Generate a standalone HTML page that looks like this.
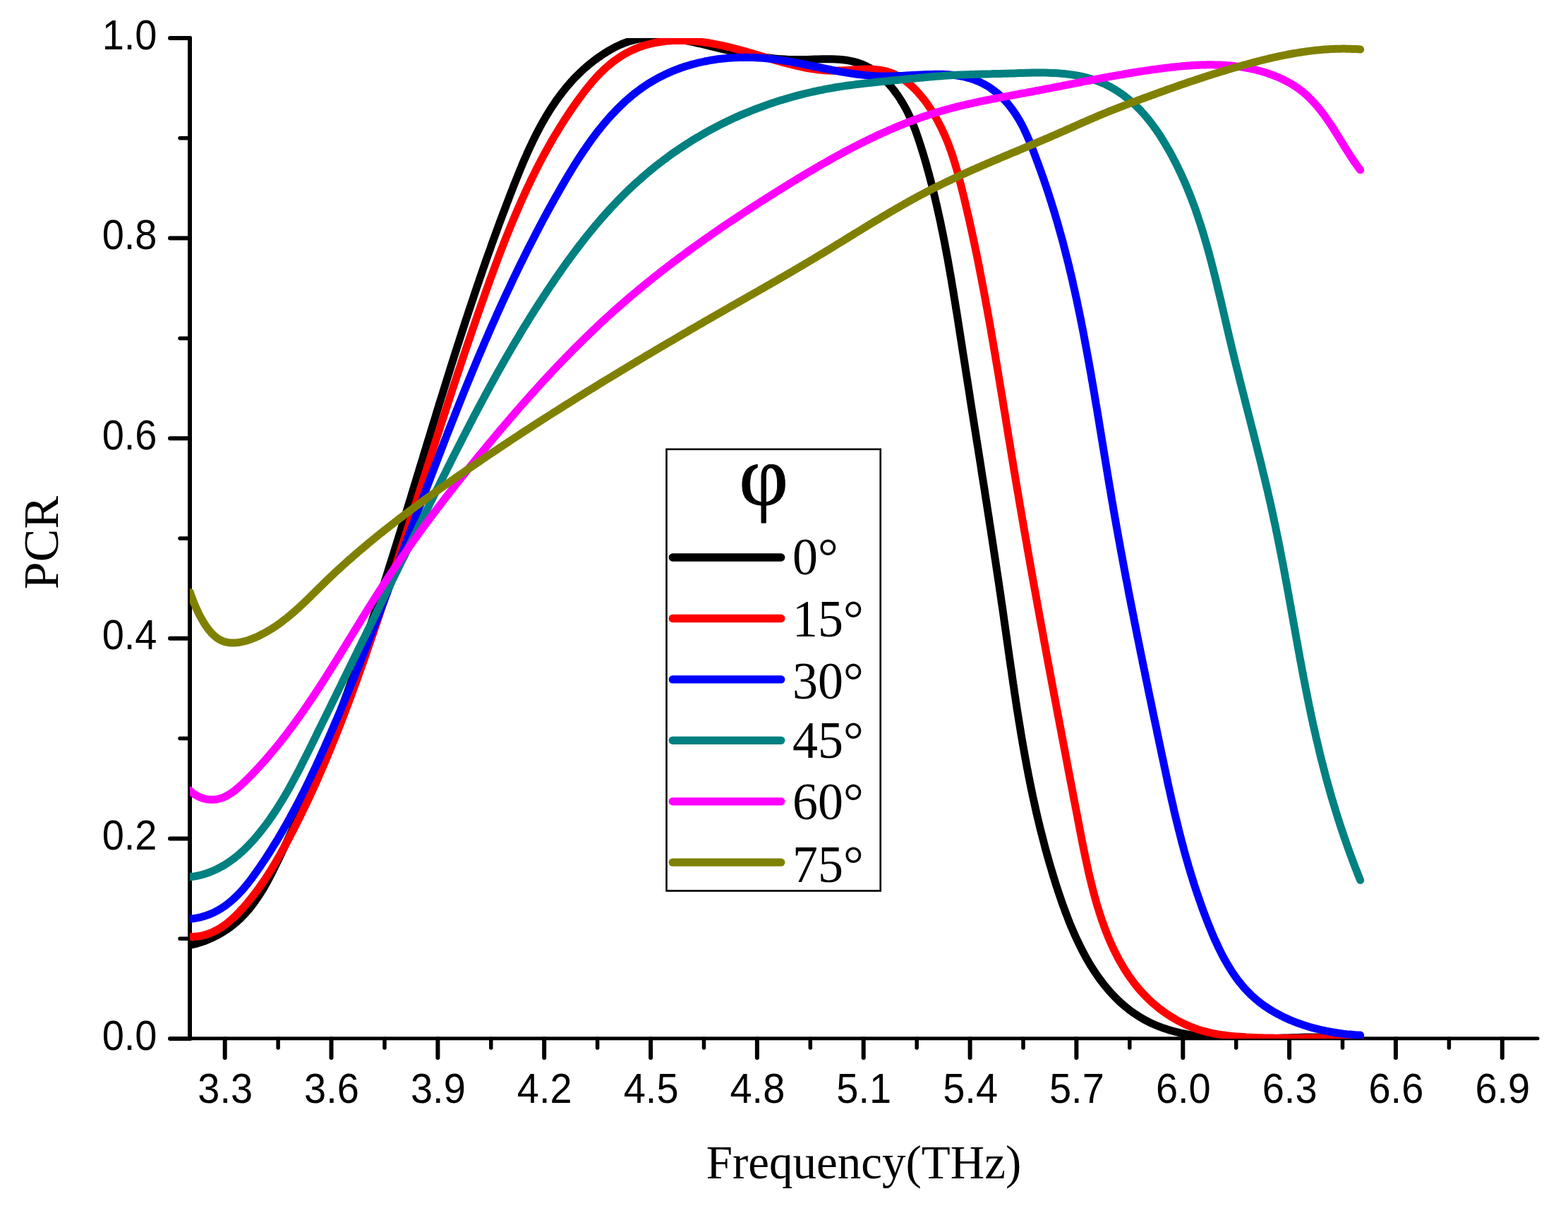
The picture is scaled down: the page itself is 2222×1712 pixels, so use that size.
<!DOCTYPE html>
<html lang="en"><head><meta charset="utf-8"><title>PCR vs Frequency</title>
<style>html,body{margin:0;padding:0;background:#fff;}body{width:2222px;height:1712px;overflow:hidden;}svg{display:block;}.t{font-family:"Liberation Sans",Arial,sans-serif;font-size:56px;fill:#000;}.s{font-family:"Liberation Serif","Times New Roman",serif;fill:#000;}</style></head><body>
<svg xmlns="http://www.w3.org/2000/svg" width="2222" height="1712" viewBox="0 0 2222 1712">
<rect width="2222" height="1712" fill="#fff"/>
<defs><clipPath id="c"><rect x="269.0" y="54.0" width="1910.2" height="1418.0"/></clipPath></defs>
<g stroke="#000" stroke-width="6" stroke-linecap="round" fill="none">
<path d="M269 54V1472"/>
<path d="M241 1471.8H2179" stroke-width="5"/>
<path d="M241 1472.0H269"/>
<path d="M255 1330.2H269" stroke-width="5.5"/>
<path d="M241 1188.4H269"/>
<path d="M255 1046.6H269" stroke-width="5.5"/>
<path d="M241 904.8H269"/>
<path d="M255 763.0H269" stroke-width="5.5"/>
<path d="M241 621.2H269"/>
<path d="M255 479.4H269" stroke-width="5.5"/>
<path d="M241 337.6H269"/>
<path d="M255 195.8H269" stroke-width="5.5"/>
<path d="M241 54.0H269"/>
<path d="M318.7 1472V1499"/>
<path d="M394.1 1472V1485" stroke-width="5.5"/>
<path d="M469.5 1472V1499"/>
<path d="M545.0 1472V1485" stroke-width="5.5"/>
<path d="M620.4 1472V1499"/>
<path d="M695.8 1472V1485" stroke-width="5.5"/>
<path d="M771.2 1472V1499"/>
<path d="M846.6 1472V1485" stroke-width="5.5"/>
<path d="M922.1 1472V1499"/>
<path d="M997.5 1472V1485" stroke-width="5.5"/>
<path d="M1072.9 1472V1499"/>
<path d="M1148.3 1472V1485" stroke-width="5.5"/>
<path d="M1223.7 1472V1499"/>
<path d="M1299.2 1472V1485" stroke-width="5.5"/>
<path d="M1374.6 1472V1499"/>
<path d="M1450.0 1472V1485" stroke-width="5.5"/>
<path d="M1525.4 1472V1499"/>
<path d="M1600.8 1472V1485" stroke-width="5.5"/>
<path d="M1676.3 1472V1499"/>
<path d="M1751.7 1472V1485" stroke-width="5.5"/>
<path d="M1827.1 1472V1499"/>
<path d="M1902.5 1472V1485" stroke-width="5.5"/>
<path d="M1977.9 1472V1499"/>
<path d="M2053.4 1472V1485" stroke-width="5.5"/>
<path d="M2128.8 1472V1499"/>
</g>
<g class="t" text-anchor="middle">
<text transform="translate(319.2 1562.7) scale(1 1.055)">3.3</text>
<text transform="translate(470.0 1562.7) scale(1 1.055)">3.6</text>
<text transform="translate(620.9 1562.7) scale(1 1.055)">3.9</text>
<text transform="translate(771.7 1562.7) scale(1 1.055)">4.2</text>
<text transform="translate(922.6 1562.7) scale(1 1.055)">4.5</text>
<text transform="translate(1073.4 1562.7) scale(1 1.055)">4.8</text>
<text transform="translate(1224.2 1562.7) scale(1 1.055)">5.1</text>
<text transform="translate(1375.1 1562.7) scale(1 1.055)">5.4</text>
<text transform="translate(1525.9 1562.7) scale(1 1.055)">5.7</text>
<text transform="translate(1676.8 1562.7) scale(1 1.055)">6.0</text>
<text transform="translate(1827.6 1562.7) scale(1 1.055)">6.3</text>
<text transform="translate(1978.4 1562.7) scale(1 1.055)">6.6</text>
<text transform="translate(2129.3 1562.7) scale(1 1.055)">6.9</text>
</g>
<g class="t" text-anchor="end">
<text transform="translate(222.5 1487.6) scale(1 1.055)">0.0</text>
<text transform="translate(222.5 1204.0) scale(1 1.055)">0.2</text>
<text transform="translate(222.5 920.4) scale(1 1.055)">0.4</text>
<text transform="translate(222.5 636.8) scale(1 1.055)">0.6</text>
<text transform="translate(222.5 353.2) scale(1 1.055)">0.8</text>
<text transform="translate(222.5 69.6) scale(1 1.055)">1.0</text>
</g>
<g clip-path="url(#c)" fill="none" stroke-width="11" stroke-linejoin="round" stroke-linecap="round">
<path stroke="#000000" d="M268.8 1339.7 L274.1 1338.5 L279.3 1337.1 L284.5 1335.5 L289.5 1333.8 L294.5 1331.8 L299.4 1329.7 L304.2 1327.4 L308.9 1325.0 L313.5 1322.4 L317.9 1319.6 L322.3 1316.8 L326.5 1313.7 L330.6 1310.6 L334.5 1307.3 L338.3 1303.9 L342.0 1300.4 L345.6 1296.7 L349.0 1293.0 L352.3 1289.2 L355.5 1285.2 L358.6 1281.2 L361.6 1277.1 L364.5 1272.9 L367.4 1268.7 L370.1 1264.4 L372.8 1260.0 L375.4 1255.6 L377.9 1251.1 L380.4 1246.5 L382.8 1242.0 L385.2 1237.4 L387.5 1232.7 L389.8 1228.1 L392.1 1223.4 L394.3 1218.7 L396.6 1214.1 L398.8 1209.4 L401.0 1204.7 L403.2 1200.0 L405.4 1195.3 L407.5 1190.6 L409.7 1185.9 L411.8 1181.2 L414.0 1176.5 L416.1 1171.8 L418.2 1167.0 L420.3 1162.3 L422.4 1157.6 L424.5 1152.9 L426.5 1148.2 L428.6 1143.5 L430.6 1138.7 L432.6 1134.0 L434.6 1129.3 L436.6 1124.5 L438.6 1119.8 L440.6 1115.1 L442.6 1110.3 L444.5 1105.6 L446.5 1100.8 L448.4 1096.1 L450.4 1091.3 L452.3 1086.6 L454.2 1081.8 L456.1 1077.1 L458.0 1072.3 L459.9 1067.6 L461.7 1062.8 L463.6 1058.1 L465.4 1053.3 L467.3 1048.5 L469.1 1043.8 L470.9 1039.0 L472.8 1034.2 L474.6 1029.5 L476.4 1024.7 L478.2 1019.9 L479.9 1015.1 L481.7 1010.4 L483.5 1005.6 L485.2 1000.8 L487.0 996.0 L488.7 991.2 L490.4 986.4 L492.2 981.7 L493.9 976.9 L495.6 972.1 L497.3 967.3 L499.0 962.5 L500.7 957.7 L502.4 952.9 L504.0 948.1 L505.7 943.3 L507.4 938.5 L509.0 933.7 L510.7 928.9 L512.3 924.1 L513.9 919.3 L515.6 914.5 L517.2 909.7 L518.8 904.9 L520.4 900.1 L522.0 895.3 L523.6 890.5 L525.2 885.6 L526.8 880.8 L528.4 876.0 L530.0 871.2 L531.6 866.4 L533.1 861.6 L534.7 856.7 L536.2 851.9 L537.8 847.1 L539.4 842.3 L540.9 837.5 L542.4 832.6 L544.0 827.8 L545.5 823.0 L547.1 818.2 L548.6 813.3 L550.1 808.5 L551.6 803.7 L553.1 798.9 L554.7 794.0 L556.2 789.2 L557.7 784.4 L559.2 779.6 L560.7 774.7 L562.2 769.9 L563.7 765.1 L565.2 760.2 L566.7 755.4 L568.2 750.6 L569.7 745.7 L571.1 740.9 L572.6 736.1 L574.1 731.2 L575.6 726.4 L577.1 721.6 L578.5 716.7 L580.0 711.9 L581.5 707.1 L583.0 702.2 L584.4 697.4 L585.9 692.6 L587.4 687.7 L588.9 682.9 L590.3 678.1 L591.8 673.2 L593.3 668.4 L594.7 663.6 L596.2 658.7 L597.7 653.9 L599.2 649.1 L600.6 644.2 L602.1 639.4 L603.6 634.6 L605.0 629.7 L606.5 624.9 L608.0 620.1 L609.5 615.2 L610.9 610.4 L612.4 605.6 L613.9 600.7 L615.4 595.9 L616.9 591.1 L618.3 586.2 L619.8 581.4 L621.3 576.6 L622.8 571.7 L624.3 566.9 L625.8 562.1 L627.3 557.3 L628.8 552.4 L630.3 547.6 L631.8 542.8 L633.3 537.9 L634.8 533.1 L636.3 528.3 L637.8 523.5 L639.3 518.7 L640.9 513.8 L642.4 509.0 L643.9 504.2 L645.4 499.4 L647.0 494.5 L648.5 489.7 L650.1 484.9 L651.6 480.1 L653.2 475.3 L654.7 470.5 L656.3 465.7 L657.9 460.8 L659.4 456.0 L661.0 451.2 L662.6 446.4 L664.2 441.6 L665.8 436.8 L667.4 432.0 L669.0 427.2 L670.6 422.4 L672.2 417.6 L673.8 412.8 L675.4 408.0 L677.1 403.2 L678.7 398.4 L680.3 393.6 L682.0 388.8 L683.6 384.0 L685.3 379.2 L687.0 374.4 L688.6 369.6 L690.3 364.8 L692.0 360.0 L693.7 355.3 L695.4 350.5 L697.1 345.7 L698.8 340.9 L700.6 336.1 L702.3 331.4 L704.0 326.6 L705.8 321.8 L707.5 317.0 L709.3 312.3 L711.1 307.5 L712.9 302.7 L714.7 298.0 L716.5 293.2 L718.3 288.4 L720.1 283.7 L721.9 278.9 L723.7 274.2 L725.6 269.4 L727.4 264.7 L729.3 259.9 L731.2 255.2 L733.1 250.4 L735.0 245.7 L736.9 241.0 L738.9 236.3 L740.8 231.6 L742.8 226.9 L744.9 222.3 L746.9 217.6 L749.0 213.0 L751.1 208.4 L753.3 203.9 L755.4 199.3 L757.6 194.8 L759.9 190.3 L762.2 185.9 L764.5 181.4 L766.9 177.1 L769.3 172.7 L771.8 168.4 L774.3 164.1 L776.9 159.9 L779.5 155.7 L782.2 151.5 L784.9 147.4 L787.7 143.3 L790.6 139.3 L793.5 135.4 L796.5 131.4 L799.5 127.6 L802.6 123.8 L805.8 120.0 L809.0 116.3 L812.3 112.7 L815.7 109.2 L819.2 105.6 L822.7 102.2 L826.4 98.8 L830.1 95.5 L833.9 92.3 L837.7 89.1 L841.7 86.0 L845.7 83.0 L849.9 80.1 L854.1 77.2 L858.4 74.5 L862.8 71.8 L867.3 69.2 L871.8 66.8 L876.4 64.6 L881.0 62.5 L885.7 60.7 L890.3 59.0 L895.1 57.6 L899.8 56.4 L904.6 55.4 L909.4 54.6 L914.2 53.9 L919.0 53.5 L923.8 53.2 L928.7 53.1 L933.6 53.2 L938.5 53.3 L943.4 53.7 L948.4 54.1 L953.3 54.7 L958.3 55.3 L963.3 56.1 L968.3 56.9 L973.3 57.9 L978.4 58.9 L983.4 59.9 L988.5 61.1 L993.5 62.2 L998.6 63.4 L1003.7 64.6 L1008.8 65.9 L1014.0 67.1 L1019.1 68.4 L1024.2 69.6 L1029.4 70.8 L1034.5 72.0 L1039.7 73.2 L1044.9 74.3 L1050.1 75.4 L1055.3 76.4 L1060.4 77.4 L1065.6 78.4 L1070.8 79.3 L1076.1 80.1 L1081.3 80.9 L1086.5 81.6 L1091.7 82.3 L1096.9 82.9 L1102.1 83.4 L1107.4 83.8 L1112.6 84.1 L1117.8 84.4 L1123.0 84.5 L1128.2 84.6 L1133.4 84.6 L1138.7 84.5 L1143.8 84.4 L1149.0 84.2 L1154.2 84.1 L1159.3 83.9 L1164.5 83.8 L1169.6 83.7 L1174.6 83.7 L1179.6 83.7 L1184.6 83.9 L1189.6 84.2 L1194.5 84.7 L1199.3 85.3 L1204.1 86.1 L1208.8 87.1 L1213.5 88.3 L1218.1 89.8 L1222.7 91.5 L1227.2 93.5 L1231.6 95.8 L1235.9 98.4 L1240.1 101.3 L1244.2 104.5 L1248.3 107.9 L1252.2 111.5 L1256.0 115.4 L1259.7 119.3 L1263.2 123.4 L1266.6 127.6 L1269.8 131.9 L1272.8 136.2 L1275.7 140.5 L1278.4 144.9 L1281.0 149.3 L1283.5 153.7 L1285.8 158.1 L1287.9 162.6 L1290.0 167.0 L1292.0 171.5 L1293.8 176.0 L1295.6 180.6 L1297.4 185.1 L1299.0 189.7 L1300.6 194.3 L1302.2 198.9 L1303.7 203.6 L1305.2 208.2 L1306.6 212.9 L1308.1 217.6 L1309.5 222.3 L1310.9 227.1 L1312.3 231.8 L1313.6 236.6 L1314.9 241.4 L1316.3 246.2 L1317.5 251.0 L1318.8 255.8 L1320.1 260.7 L1321.3 265.5 L1322.5 270.4 L1323.7 275.3 L1324.9 280.2 L1326.0 285.1 L1327.2 290.1 L1328.3 295.0 L1329.4 300.0 L1330.5 304.9 L1331.6 309.9 L1332.7 314.9 L1333.7 319.9 L1334.7 324.9 L1335.8 329.9 L1336.8 334.9 L1337.8 340.0 L1338.8 345.0 L1339.7 350.1 L1340.7 355.1 L1341.6 360.2 L1342.6 365.3 L1343.5 370.3 L1344.4 375.4 L1345.3 380.5 L1346.2 385.6 L1347.1 390.7 L1348.0 395.8 L1348.8 401.0 L1349.7 406.1 L1350.6 411.2 L1351.4 416.3 L1352.2 421.4 L1353.1 426.6 L1353.9 431.7 L1354.7 436.8 L1355.6 442.0 L1356.4 447.1 L1357.2 452.2 L1358.0 457.4 L1358.8 462.5 L1359.6 467.6 L1360.4 472.8 L1361.2 477.9 L1362.0 483.0 L1362.8 488.2 L1363.6 493.3 L1364.4 498.4 L1365.2 503.5 L1366.0 508.6 L1366.8 513.7 L1367.6 518.8 L1368.4 524.0 L1369.2 529.1 L1370.0 534.1 L1370.8 539.2 L1371.6 544.3 L1372.4 549.4 L1373.2 554.5 L1374.0 559.6 L1374.7 564.7 L1375.5 569.7 L1376.3 574.8 L1377.1 579.9 L1377.9 584.9 L1378.7 590.0 L1379.5 595.0 L1380.3 600.1 L1381.1 605.1 L1381.9 610.2 L1382.7 615.2 L1383.5 620.3 L1384.3 625.3 L1385.1 630.4 L1385.9 635.4 L1386.7 640.4 L1387.5 645.5 L1388.3 650.5 L1389.1 655.5 L1389.9 660.5 L1390.6 665.5 L1391.4 670.6 L1392.2 675.6 L1393.0 680.6 L1393.8 685.6 L1394.6 690.6 L1395.4 695.6 L1396.1 700.6 L1396.9 705.6 L1397.7 710.6 L1398.5 715.6 L1399.2 720.6 L1400.0 725.6 L1400.8 730.6 L1401.6 735.6 L1402.3 740.6 L1403.1 745.6 L1403.9 750.5 L1404.6 755.5 L1405.4 760.5 L1406.2 765.5 L1406.9 770.5 L1407.7 775.4 L1408.4 780.4 L1409.2 785.4 L1409.9 790.4 L1410.7 795.3 L1411.4 800.3 L1412.2 805.3 L1412.9 810.2 L1413.7 815.2 L1414.4 820.2 L1415.2 825.1 L1415.9 830.1 L1416.6 835.1 L1417.4 840.0 L1418.1 845.0 L1418.8 849.9 L1419.5 854.9 L1420.3 859.8 L1421.0 864.8 L1421.7 869.8 L1422.4 874.7 L1423.1 879.7 L1423.8 884.6 L1424.5 889.6 L1425.2 894.5 L1425.9 899.5 L1426.6 904.4 L1427.3 909.4 L1428.0 914.3 L1428.7 919.3 L1429.4 924.2 L1430.1 929.2 L1430.8 934.1 L1431.5 939.1 L1432.2 944.0 L1433.0 949.0 L1433.7 953.9 L1434.4 958.9 L1435.1 963.8 L1435.8 968.8 L1436.6 973.7 L1437.3 978.7 L1438.0 983.7 L1438.8 988.6 L1439.5 993.6 L1440.3 998.5 L1441.0 1003.5 L1441.8 1008.4 L1442.6 1013.4 L1443.4 1018.3 L1444.2 1023.3 L1445.0 1028.2 L1445.8 1033.2 L1446.6 1038.2 L1447.4 1043.1 L1448.3 1048.1 L1449.1 1053.0 L1450.0 1058.0 L1450.9 1063.0 L1451.8 1067.9 L1452.6 1072.9 L1453.6 1077.8 L1454.5 1082.8 L1455.4 1087.8 L1456.4 1092.7 L1457.3 1097.7 L1458.3 1102.7 L1459.3 1107.7 L1460.3 1112.6 L1461.3 1117.6 L1462.4 1122.6 L1463.4 1127.6 L1464.5 1132.5 L1465.6 1137.5 L1466.7 1142.5 L1467.8 1147.5 L1468.9 1152.5 L1470.1 1157.5 L1471.3 1162.5 L1472.5 1167.5 L1473.7 1172.5 L1474.9 1177.4 L1476.2 1182.4 L1477.5 1187.4 L1478.8 1192.4 L1480.1 1197.5 L1481.4 1202.5 L1482.8 1207.5 L1484.2 1212.5 L1485.6 1217.5 L1487.0 1222.5 L1488.5 1227.5 L1490.0 1232.5 L1491.5 1237.6 L1493.0 1242.6 L1494.6 1247.6 L1496.1 1252.7 L1497.8 1257.7 L1499.4 1262.7 L1501.1 1267.7 L1502.8 1272.8 L1504.5 1277.8 L1506.3 1282.8 L1508.1 1287.7 L1509.9 1292.7 L1511.8 1297.6 L1513.7 1302.6 L1515.6 1307.5 L1517.6 1312.3 L1519.7 1317.2 L1521.7 1322.0 L1523.9 1326.8 L1526.1 1331.5 L1528.3 1336.2 L1530.6 1340.9 L1532.9 1345.5 L1535.3 1350.1 L1537.7 1354.6 L1540.2 1359.1 L1542.7 1363.5 L1545.3 1367.8 L1548.0 1372.1 L1550.7 1376.4 L1553.5 1380.5 L1556.4 1384.6 L1559.3 1388.7 L1562.3 1392.6 L1565.3 1396.5 L1568.5 1400.3 L1571.7 1404.1 L1574.9 1407.7 L1578.3 1411.3 L1581.7 1414.8 L1585.2 1418.2 L1588.7 1421.5 L1592.4 1424.7 L1596.1 1427.8 L1599.9 1430.8 L1603.8 1433.7 L1607.8 1436.5 L1611.9 1439.2 L1616.0 1441.8 L1620.3 1444.3 L1624.6 1446.6 L1629.0 1448.9 L1633.5 1451.0 L1638.1 1453.0 L1642.8 1454.9 L1647.6 1456.7 L1652.5 1458.3 L1657.4 1459.9 L1662.4 1461.3 L1667.5 1462.6 L1672.6 1463.9 L1677.8 1465.0 L1683.0 1466.0 L1688.2 1467.0 L1693.5 1467.8 L1698.8 1468.6 L1704.1 1469.3 L1709.4 1469.9 L1714.7 1470.5 L1720.0 1471.0 L1725.3 1471.4 L1730.6 1471.7 L1735.8 1472.0 L1741.0 1472.2 L1746.2 1472.4 L1751.3 1472.5 L1756.4 1472.6 L1761.4 1472.7 L1766.4 1472.7 L1771.4 1472.6 L1776.3 1472.6 L1781.2 1472.5 L1786.0 1472.4 L1790.8 1472.2 L1795.6 1472.1 L1800.4 1471.9 L1805.2 1471.7 L1810.0 1471.5 L1814.8 1471.3 L1819.6 1471.1 L1824.4 1470.9 L1829.2 1470.7 L1834.0 1470.6 L1838.8 1470.4 L1843.6 1470.3 L1848.5 1470.1 L1853.4 1470.0 L1858.4 1470.0 L1863.4 1469.9 L1868.4 1469.9 L1873.5 1469.9 L1878.6 1470.0 L1883.8 1470.1 L1889.0 1470.3 L1894.3 1470.5 L1899.7 1470.7 L1905.1 1471.1 L1910.6 1471.5 L1916.2 1471.9 L1921.9 1472.4 L1927.7 1473.0"/>
<path stroke="#ff0000" d="M268.9 1327.6 L274.5 1327.6 L279.8 1327.1 L285.0 1326.3 L290.1 1325.1 L295.0 1323.5 L299.8 1321.7 L304.4 1319.5 L309.0 1317.1 L313.4 1314.4 L317.6 1311.5 L321.8 1308.3 L325.9 1305.0 L329.8 1301.5 L333.6 1297.9 L337.4 1294.2 L341.0 1290.3 L344.6 1286.4 L348.0 1282.5 L351.4 1278.5 L354.7 1274.4 L357.9 1270.4 L361.0 1266.3 L364.1 1262.3 L367.1 1258.2 L370.0 1254.0 L372.9 1249.9 L375.7 1245.8 L378.4 1241.6 L381.1 1237.4 L383.8 1233.2 L386.4 1229.0 L388.9 1224.8 L391.4 1220.5 L393.9 1216.2 L396.4 1211.9 L398.8 1207.6 L401.2 1203.3 L403.6 1199.0 L405.9 1194.7 L408.3 1190.3 L410.6 1185.9 L412.9 1181.5 L415.2 1177.1 L417.4 1172.7 L419.7 1168.3 L421.9 1163.8 L424.2 1159.4 L426.4 1154.9 L428.6 1150.4 L430.7 1145.9 L432.9 1141.4 L435.0 1136.9 L437.2 1132.4 L439.3 1127.9 L441.4 1123.3 L443.5 1118.7 L445.5 1114.2 L447.6 1109.6 L449.7 1105.0 L451.7 1100.4 L453.7 1095.8 L455.7 1091.1 L457.7 1086.5 L459.7 1081.9 L461.7 1077.2 L463.6 1072.6 L465.6 1067.9 L467.5 1063.2 L469.4 1058.5 L471.3 1053.8 L473.2 1049.1 L475.1 1044.4 L477.0 1039.7 L478.9 1035.0 L480.7 1030.3 L482.6 1025.5 L484.4 1020.8 L486.2 1016.1 L488.0 1011.3 L489.8 1006.6 L491.6 1001.8 L493.4 997.0 L495.2 992.3 L497.0 987.5 L498.7 982.7 L500.5 977.9 L502.2 973.2 L504.0 968.4 L505.7 963.6 L507.4 958.8 L509.1 954.0 L510.8 949.2 L512.5 944.4 L514.2 939.6 L515.9 934.8 L517.6 930.0 L519.3 925.2 L520.9 920.3 L522.6 915.5 L524.2 910.7 L525.9 905.9 L527.5 901.1 L529.2 896.3 L530.8 891.5 L532.4 886.7 L534.1 881.9 L535.7 877.1 L537.3 872.2 L538.9 867.4 L540.5 862.6 L542.1 857.8 L543.7 853.0 L545.3 848.2 L546.9 843.4 L548.5 838.6 L550.1 833.8 L551.7 829.0 L553.3 824.2 L554.8 819.4 L556.4 814.6 L558.0 809.8 L559.5 805.0 L561.1 800.2 L562.7 795.4 L564.2 790.7 L565.8 785.9 L567.3 781.1 L568.9 776.3 L570.4 771.5 L572.0 766.7 L573.5 761.9 L575.1 757.1 L576.6 752.3 L578.2 747.6 L579.7 742.8 L581.2 738.0 L582.8 733.2 L584.3 728.4 L585.8 723.7 L587.4 718.9 L588.9 714.1 L590.4 709.3 L592.0 704.5 L593.5 699.8 L595.0 695.0 L596.5 690.2 L598.1 685.4 L599.6 680.7 L601.1 675.9 L602.7 671.1 L604.2 666.3 L605.7 661.6 L607.2 656.8 L608.8 652.0 L610.3 647.3 L611.8 642.5 L613.4 637.7 L614.9 633.0 L616.4 628.2 L618.0 623.4 L619.5 618.7 L621.0 613.9 L622.6 609.2 L624.1 604.4 L625.6 599.6 L627.2 594.9 L628.7 590.1 L630.3 585.4 L631.8 580.6 L633.4 575.9 L634.9 571.1 L636.5 566.4 L638.0 561.6 L639.6 556.8 L641.1 552.1 L642.7 547.3 L644.3 542.6 L645.9 537.8 L647.4 533.1 L649.0 528.3 L650.6 523.6 L652.2 518.9 L653.7 514.1 L655.3 509.4 L656.9 504.6 L658.5 499.9 L660.1 495.1 L661.7 490.4 L663.3 485.7 L665.0 480.9 L666.6 476.2 L668.2 471.4 L669.8 466.7 L671.5 462.0 L673.1 457.2 L674.7 452.5 L676.4 447.8 L678.0 443.0 L679.7 438.3 L681.3 433.6 L683.0 428.8 L684.7 424.1 L686.4 419.4 L688.0 414.6 L689.7 409.9 L691.4 405.2 L693.1 400.4 L694.8 395.7 L696.5 391.0 L698.3 386.3 L700.0 381.6 L701.7 376.9 L703.5 372.1 L705.3 367.4 L707.0 362.7 L708.8 358.0 L710.6 353.3 L712.4 348.7 L714.2 344.0 L716.1 339.3 L717.9 334.6 L719.8 330.0 L721.7 325.3 L723.6 320.7 L725.5 316.0 L727.4 311.4 L729.3 306.8 L731.3 302.2 L733.3 297.5 L735.3 293.0 L737.3 288.4 L739.3 283.8 L741.4 279.2 L743.4 274.7 L745.5 270.1 L747.6 265.6 L749.8 261.1 L751.9 256.5 L754.1 252.0 L756.3 247.6 L758.5 243.1 L760.8 238.6 L763.0 234.2 L765.3 229.8 L767.6 225.3 L770.0 220.9 L772.4 216.5 L774.8 212.2 L777.2 207.8 L779.7 203.5 L782.1 199.1 L784.6 194.8 L787.2 190.5 L789.8 186.3 L792.4 182.0 L795.0 177.8 L797.7 173.6 L800.3 169.4 L803.1 165.2 L805.8 161.0 L808.6 156.9 L811.4 152.7 L814.3 148.6 L817.2 144.6 L820.1 140.5 L823.1 136.5 L826.1 132.5 L829.1 128.5 L832.2 124.5 L835.4 120.7 L838.6 116.8 L841.9 113.1 L845.2 109.4 L848.6 105.7 L852.1 102.2 L855.7 98.8 L859.3 95.4 L863.1 92.2 L866.9 89.0 L870.9 86.0 L874.9 83.2 L879.0 80.4 L883.2 77.8 L887.5 75.3 L891.9 73.0 L896.3 70.9 L900.8 68.9 L905.3 67.1 L909.9 65.5 L914.5 64.0 L919.2 62.7 L923.9 61.5 L928.7 60.5 L933.5 59.7 L938.3 59.0 L943.2 58.4 L948.1 57.9 L953.1 57.6 L958.0 57.5 L963.0 57.4 L968.1 57.4 L973.1 57.6 L978.1 57.9 L983.2 58.3 L988.3 58.8 L993.4 59.4 L998.5 60.0 L1003.6 60.8 L1008.7 61.7 L1013.8 62.6 L1018.9 63.6 L1024.0 64.7 L1029.1 65.8 L1034.2 67.0 L1039.3 68.3 L1044.3 69.6 L1049.4 71.0 L1054.5 72.4 L1059.5 73.8 L1064.5 75.3 L1069.6 76.8 L1074.6 78.2 L1079.6 79.7 L1084.6 81.2 L1089.6 82.7 L1094.6 84.2 L1099.6 85.6 L1104.5 87.0 L1109.5 88.4 L1114.5 89.7 L1119.4 91.0 L1124.4 92.2 L1129.3 93.4 L1134.3 94.5 L1139.2 95.5 L1144.1 96.5 L1149.1 97.3 L1154.0 98.1 L1158.9 98.7 L1163.8 99.3 L1168.7 99.7 L1173.6 100.0 L1178.5 100.2 L1183.4 100.2 L1188.2 100.1 L1193.1 100.0 L1198.0 99.7 L1202.9 99.4 L1207.7 99.1 L1212.6 98.7 L1217.5 98.5 L1222.3 98.2 L1227.2 98.1 L1232.0 98.1 L1236.8 98.2 L1241.6 98.6 L1246.3 99.1 L1250.9 99.9 L1255.5 100.9 L1260.0 102.2 L1264.4 103.9 L1268.8 105.8 L1273.0 108.0 L1277.1 110.5 L1281.1 113.2 L1285.1 116.2 L1288.9 119.3 L1292.7 122.7 L1296.3 126.2 L1299.9 129.9 L1303.3 133.8 L1306.6 137.7 L1309.9 141.8 L1313.0 146.0 L1316.0 150.3 L1318.9 154.6 L1321.7 159.0 L1324.4 163.5 L1326.9 167.9 L1329.4 172.4 L1331.7 176.9 L1334.0 181.3 L1336.1 185.9 L1338.2 190.4 L1340.2 194.9 L1342.1 199.5 L1343.9 204.1 L1345.6 208.7 L1347.3 213.3 L1348.9 217.9 L1350.4 222.5 L1351.9 227.2 L1353.3 231.9 L1354.7 236.5 L1356.1 241.2 L1357.4 245.9 L1358.7 250.7 L1359.9 255.4 L1361.1 260.1 L1362.3 264.9 L1363.5 269.7 L1364.7 274.5 L1365.9 279.2 L1367.0 284.1 L1368.2 288.9 L1369.3 293.7 L1370.4 298.5 L1371.5 303.4 L1372.7 308.2 L1373.8 313.1 L1374.8 318.0 L1375.9 322.9 L1377.0 327.8 L1378.1 332.7 L1379.1 337.6 L1380.2 342.5 L1381.2 347.4 L1382.2 352.4 L1383.3 357.3 L1384.3 362.2 L1385.3 367.2 L1386.3 372.2 L1387.3 377.1 L1388.3 382.1 L1389.2 387.1 L1390.2 392.1 L1391.2 397.1 L1392.1 402.1 L1393.1 407.1 L1394.0 412.1 L1395.0 417.1 L1395.9 422.1 L1396.8 427.1 L1397.7 432.2 L1398.7 437.2 L1399.6 442.2 L1400.5 447.2 L1401.4 452.3 L1402.3 457.3 L1403.2 462.4 L1404.1 467.4 L1404.9 472.4 L1405.8 477.5 L1406.7 482.5 L1407.6 487.6 L1408.4 492.6 L1409.3 497.7 L1410.1 502.7 L1411.0 507.8 L1411.8 512.8 L1412.7 517.8 L1413.5 522.9 L1414.4 527.9 L1415.2 533.0 L1416.0 538.0 L1416.9 543.1 L1417.7 548.1 L1418.5 553.1 L1419.4 558.1 L1420.2 563.2 L1421.0 568.2 L1421.8 573.2 L1422.6 578.2 L1423.5 583.2 L1424.3 588.2 L1425.1 593.2 L1425.9 598.2 L1426.7 603.2 L1427.5 608.2 L1428.3 613.2 L1429.1 618.2 L1429.9 623.1 L1430.8 628.1 L1431.6 633.1 L1432.4 638.0 L1433.2 643.0 L1434.0 647.9 L1434.8 652.8 L1435.6 657.7 L1436.4 662.6 L1437.2 667.5 L1438.1 672.4 L1438.9 677.3 L1439.7 682.2 L1440.5 687.1 L1441.3 691.9 L1442.1 696.8 L1443.0 701.6 L1443.8 706.5 L1444.6 711.3 L1445.4 716.2 L1446.3 721.0 L1447.1 725.8 L1447.9 730.6 L1448.7 735.4 L1449.6 740.2 L1450.4 745.1 L1451.2 749.9 L1452.1 754.6 L1452.9 759.4 L1453.7 764.2 L1454.6 769.0 L1455.4 773.8 L1456.2 778.6 L1457.1 783.3 L1457.9 788.1 L1458.8 792.9 L1459.6 797.6 L1460.4 802.4 L1461.3 807.2 L1462.1 811.9 L1463.0 816.7 L1463.8 821.4 L1464.7 826.2 L1465.5 831.0 L1466.4 835.7 L1467.3 840.5 L1468.1 845.2 L1469.0 850.0 L1469.8 854.7 L1470.7 859.5 L1471.6 864.3 L1472.4 869.0 L1473.3 873.8 L1474.2 878.5 L1475.0 883.3 L1475.9 888.1 L1476.8 892.8 L1477.7 897.6 L1478.5 902.4 L1479.4 907.1 L1480.3 911.9 L1481.2 916.7 L1482.1 921.5 L1482.9 926.3 L1483.8 931.1 L1484.7 935.9 L1485.6 940.7 L1486.5 945.5 L1487.4 950.3 L1488.3 955.1 L1489.2 959.9 L1490.1 964.7 L1491.0 969.6 L1491.9 974.4 L1492.8 979.2 L1493.7 984.1 L1494.7 988.9 L1495.6 993.8 L1496.5 998.6 L1497.4 1003.5 L1498.3 1008.4 L1499.2 1013.3 L1500.2 1018.2 L1501.1 1023.1 L1502.0 1028.0 L1503.0 1032.9 L1503.9 1037.8 L1504.8 1042.8 L1505.8 1047.7 L1506.7 1052.7 L1507.7 1057.6 L1508.6 1062.6 L1509.6 1067.6 L1510.5 1072.6 L1511.5 1077.6 L1512.4 1082.6 L1513.4 1087.6 L1514.3 1092.7 L1515.3 1097.7 L1516.3 1102.8 L1517.2 1107.8 L1518.2 1112.9 L1519.2 1118.0 L1520.2 1123.1 L1521.1 1128.2 L1522.1 1133.4 L1523.1 1138.5 L1524.1 1143.7 L1525.1 1148.8 L1526.1 1154.0 L1527.1 1159.2 L1528.1 1164.4 L1529.1 1169.6 L1530.1 1174.9 L1531.1 1180.1 L1532.1 1185.4 L1533.1 1190.6 L1534.2 1195.9 L1535.2 1201.1 L1536.3 1206.4 L1537.4 1211.7 L1538.5 1216.9 L1539.6 1222.2 L1540.8 1227.5 L1541.9 1232.7 L1543.1 1237.9 L1544.3 1243.2 L1545.6 1248.4 L1546.9 1253.6 L1548.2 1258.8 L1549.5 1263.9 L1550.9 1269.1 L1552.3 1274.2 L1553.7 1279.3 L1555.2 1284.3 L1556.8 1289.4 L1558.3 1294.4 L1560.0 1299.4 L1561.6 1304.3 L1563.4 1309.2 L1565.1 1314.1 L1566.9 1319.0 L1568.8 1323.8 L1570.7 1328.5 L1572.7 1333.2 L1574.8 1337.9 L1576.9 1342.5 L1579.0 1347.1 L1581.3 1351.6 L1583.6 1356.0 L1585.9 1360.5 L1588.4 1364.8 L1590.9 1369.1 L1593.4 1373.3 L1596.1 1377.5 L1598.8 1381.6 L1601.6 1385.6 L1604.5 1389.6 L1607.4 1393.5 L1610.5 1397.4 L1613.6 1401.1 L1616.8 1404.8 L1620.1 1408.4 L1623.5 1411.9 L1627.0 1415.4 L1630.5 1418.8 L1634.2 1422.0 L1637.9 1425.2 L1641.7 1428.3 L1645.6 1431.3 L1649.6 1434.2 L1653.6 1437.0 L1657.7 1439.7 L1661.9 1442.3 L1666.1 1444.8 L1670.4 1447.2 L1674.8 1449.4 L1679.2 1451.6 L1683.7 1453.6 L1688.3 1455.5 L1692.9 1457.2 L1697.5 1458.9 L1702.2 1460.3 L1706.9 1461.7 L1711.7 1462.9 L1716.6 1464.0 L1721.4 1465.0 L1726.3 1465.9 L1731.3 1466.6 L1736.2 1467.3 L1741.2 1467.9 L1746.3 1468.4 L1751.3 1468.9 L1756.4 1469.3 L1761.5 1469.6 L1766.6 1470.0 L1771.8 1470.2 L1776.9 1470.5 L1782.1 1470.7 L1787.3 1470.8 L1792.4 1470.9 L1797.6 1471.1 L1802.8 1471.1 L1808.0 1471.2 L1813.2 1471.2 L1818.4 1471.2 L1823.6 1471.2 L1828.8 1471.2 L1833.9 1471.2 L1839.1 1471.2 L1844.2 1471.2 L1849.3 1471.1 L1854.4 1471.1 L1859.5 1471.1 L1864.6 1471.1 L1869.6 1471.1 L1874.6 1471.1 L1879.6 1471.1 L1884.5 1471.1 L1889.4 1471.2 L1894.3 1471.2 L1899.1 1471.4 L1903.9 1471.5 L1908.7 1471.7 L1913.4 1471.9 L1918.0 1472.1 L1922.6 1472.4 L1927.2 1472.7"/>
<path stroke="#0000ff" d="M268.9 1302.4 L274.3 1301.7 L279.5 1300.9 L284.6 1299.8 L289.6 1298.4 L294.3 1296.8 L299.0 1295.0 L303.5 1293.0 L307.8 1290.7 L312.0 1288.3 L316.1 1285.7 L320.1 1282.9 L323.9 1280.0 L327.6 1276.9 L331.3 1273.7 L334.8 1270.3 L338.2 1266.8 L341.6 1263.3 L344.9 1259.6 L348.1 1255.8 L351.2 1252.0 L354.3 1248.0 L357.3 1244.1 L360.2 1240.0 L363.1 1236.0 L366.0 1231.9 L368.8 1227.8 L371.6 1223.7 L374.4 1219.5 L377.1 1215.4 L379.8 1211.2 L382.5 1207.1 L385.1 1202.9 L387.7 1198.7 L390.3 1194.5 L392.9 1190.3 L395.4 1186.1 L397.9 1181.8 L400.4 1177.6 L402.8 1173.3 L405.3 1169.1 L407.7 1164.8 L410.0 1160.5 L412.4 1156.2 L414.7 1151.9 L417.0 1147.6 L419.3 1143.3 L421.6 1139.0 L423.9 1134.7 L426.1 1130.3 L428.3 1126.0 L430.5 1121.6 L432.6 1117.3 L434.8 1112.9 L436.9 1108.5 L439.1 1104.1 L441.2 1099.7 L443.2 1095.3 L445.3 1090.9 L447.4 1086.5 L449.4 1082.1 L451.5 1077.7 L453.5 1073.2 L455.5 1068.8 L457.5 1064.4 L459.5 1059.9 L461.4 1055.5 L463.4 1051.0 L465.4 1046.6 L467.3 1042.1 L469.3 1037.6 L471.2 1033.2 L473.1 1028.7 L475.0 1024.2 L477.0 1019.7 L478.9 1015.3 L480.8 1010.8 L482.7 1006.3 L484.5 1001.8 L486.4 997.3 L488.3 992.8 L490.2 988.3 L492.0 983.8 L493.9 979.3 L495.7 974.7 L497.6 970.2 L499.4 965.7 L501.3 961.2 L503.1 956.7 L504.9 952.1 L506.8 947.6 L508.6 943.1 L510.4 938.5 L512.2 934.0 L514.0 929.5 L515.8 924.9 L517.6 920.4 L519.4 915.8 L521.2 911.3 L522.9 906.7 L524.7 902.2 L526.5 897.6 L528.3 893.1 L530.0 888.5 L531.8 883.9 L533.6 879.4 L535.3 874.8 L537.1 870.2 L538.8 865.7 L540.6 861.1 L542.3 856.5 L544.1 852.0 L545.8 847.4 L547.6 842.8 L549.3 838.3 L551.0 833.7 L552.8 829.1 L554.5 824.5 L556.2 820.0 L558.0 815.4 L559.7 810.8 L561.4 806.2 L563.2 801.6 L564.9 797.1 L566.6 792.5 L568.3 787.9 L570.1 783.3 L571.8 778.7 L573.5 774.2 L575.2 769.6 L576.9 765.0 L578.7 760.4 L580.4 755.8 L582.1 751.2 L583.8 746.7 L585.5 742.1 L587.3 737.5 L589.0 732.9 L590.7 728.3 L592.4 723.8 L594.1 719.2 L595.9 714.6 L597.6 710.0 L599.3 705.4 L601.0 700.9 L602.8 696.3 L604.5 691.7 L606.2 687.1 L608.0 682.6 L609.7 678.0 L611.4 673.4 L613.2 668.9 L614.9 664.3 L616.7 659.7 L618.4 655.2 L620.2 650.6 L621.9 646.0 L623.7 641.5 L625.4 636.9 L627.2 632.4 L628.9 627.8 L630.7 623.2 L632.5 618.7 L634.2 614.1 L636.0 609.6 L637.8 605.1 L639.6 600.5 L641.4 596.0 L643.2 591.4 L645.0 586.9 L646.8 582.4 L648.6 577.8 L650.4 573.3 L652.2 568.8 L654.0 564.3 L655.8 559.7 L657.6 555.2 L659.5 550.7 L661.3 546.2 L663.2 541.7 L665.0 537.2 L666.9 532.7 L668.7 528.2 L670.6 523.7 L672.5 519.2 L674.3 514.7 L676.2 510.2 L678.1 505.7 L680.0 501.3 L681.9 496.8 L683.8 492.3 L685.7 487.8 L687.6 483.4 L689.6 478.9 L691.5 474.5 L693.4 470.0 L695.4 465.6 L697.3 461.1 L699.3 456.7 L701.3 452.3 L703.2 447.8 L705.2 443.4 L707.2 439.0 L709.2 434.6 L711.2 430.1 L713.3 425.7 L715.3 421.3 L717.3 416.9 L719.4 412.5 L721.4 408.2 L723.5 403.8 L725.5 399.4 L727.6 395.0 L729.7 390.7 L731.8 386.3 L733.9 381.9 L736.0 377.6 L738.1 373.2 L740.3 368.9 L742.4 364.6 L744.6 360.2 L746.7 355.9 L748.9 351.6 L751.1 347.3 L753.3 343.0 L755.5 338.7 L757.7 334.4 L759.9 330.1 L762.2 325.8 L764.4 321.5 L766.7 317.2 L768.9 313.0 L771.2 308.7 L773.5 304.5 L775.8 300.2 L778.1 296.0 L780.4 291.8 L782.8 287.5 L785.1 283.3 L787.5 279.1 L789.9 274.9 L792.3 270.7 L794.7 266.5 L797.1 262.3 L799.5 258.2 L801.9 254.0 L804.4 249.9 L806.9 245.7 L809.4 241.6 L811.9 237.5 L814.4 233.5 L817.0 229.4 L819.5 225.4 L822.1 221.4 L824.7 217.4 L827.4 213.5 L830.1 209.6 L832.8 205.7 L835.5 201.8 L838.2 198.0 L841.0 194.3 L843.8 190.5 L846.6 186.8 L849.5 183.2 L852.4 179.6 L855.3 176.0 L858.3 172.5 L861.3 169.0 L864.3 165.6 L867.4 162.2 L870.5 158.9 L873.7 155.6 L876.8 152.4 L880.1 149.3 L883.3 146.2 L886.6 143.1 L890.0 140.2 L893.4 137.3 L896.8 134.4 L900.3 131.7 L903.8 129.0 L907.4 126.3 L911.0 123.8 L914.7 121.3 L918.4 118.8 L922.2 116.5 L926.0 114.2 L929.9 112.0 L933.8 109.9 L937.8 107.8 L941.8 105.8 L945.9 103.9 L950.0 102.1 L954.2 100.3 L958.5 98.6 L962.8 97.0 L967.1 95.5 L971.5 94.0 L975.9 92.7 L980.4 91.4 L984.9 90.2 L989.5 89.0 L994.1 88.0 L998.7 87.0 L1003.4 86.1 L1008.1 85.2 L1012.8 84.5 L1017.6 83.8 L1022.4 83.2 L1027.2 82.7 L1032.0 82.3 L1036.9 81.9 L1041.8 81.7 L1046.7 81.5 L1051.6 81.4 L1056.5 81.3 L1061.5 81.4 L1066.5 81.5 L1071.4 81.7 L1076.4 82.0 L1081.4 82.3 L1086.4 82.8 L1091.4 83.3 L1096.4 83.9 L1101.4 84.6 L1106.4 85.3 L1111.4 86.1 L1116.4 86.9 L1121.4 87.7 L1126.3 88.6 L1131.3 89.6 L1136.3 90.5 L1141.2 91.5 L1146.1 92.5 L1151.0 93.5 L1155.9 94.5 L1160.8 95.5 L1165.6 96.5 L1170.5 97.5 L1175.3 98.5 L1180.0 99.5 L1184.8 100.4 L1189.5 101.3 L1194.2 102.1 L1198.8 102.9 L1203.5 103.7 L1208.1 104.4 L1212.6 105.0 L1217.2 105.6 L1221.8 106.1 L1226.4 106.6 L1231.0 107.0 L1235.6 107.4 L1240.2 107.7 L1244.9 107.9 L1249.6 108.0 L1254.4 108.1 L1259.2 108.1 L1264.0 108.0 L1269.0 107.8 L1273.9 107.6 L1278.9 107.4 L1283.9 107.1 L1289.0 106.8 L1294.1 106.5 L1299.1 106.2 L1304.2 106.0 L1309.3 105.7 L1314.4 105.5 L1319.5 105.4 L1324.6 105.3 L1329.6 105.3 L1334.6 105.3 L1339.6 105.5 L1344.6 105.8 L1349.5 106.2 L1354.3 106.8 L1359.1 107.5 L1363.8 108.4 L1368.5 109.4 L1373.1 110.6 L1377.6 112.0 L1382.0 113.6 L1386.3 115.3 L1390.6 117.3 L1394.7 119.4 L1398.8 121.7 L1402.8 124.2 L1406.6 126.9 L1410.4 129.7 L1414.1 132.8 L1417.7 135.9 L1421.1 139.3 L1424.5 142.8 L1427.8 146.5 L1430.9 150.4 L1433.9 154.3 L1436.8 158.3 L1439.6 162.5 L1442.2 166.7 L1444.8 170.9 L1447.2 175.2 L1449.5 179.5 L1451.6 183.9 L1453.6 188.2 L1455.6 192.6 L1457.4 196.9 L1459.3 201.3 L1461.0 205.7 L1462.8 210.1 L1464.5 214.5 L1466.2 219.0 L1467.9 223.4 L1469.5 227.8 L1471.2 232.3 L1472.8 236.8 L1474.4 241.2 L1476.0 245.7 L1477.6 250.2 L1479.2 254.7 L1480.7 259.2 L1482.3 263.8 L1483.8 268.3 L1485.3 272.8 L1486.8 277.4 L1488.2 282.0 L1489.7 286.5 L1491.1 291.1 L1492.5 295.7 L1494.0 300.3 L1495.3 304.9 L1496.7 309.5 L1498.1 314.1 L1499.4 318.8 L1500.7 323.4 L1502.0 328.1 L1503.3 332.7 L1504.6 337.4 L1505.9 342.0 L1507.1 346.7 L1508.3 351.4 L1509.5 356.1 L1510.7 360.8 L1511.9 365.5 L1513.1 370.2 L1514.3 374.9 L1515.4 379.6 L1516.5 384.4 L1517.7 389.1 L1518.8 393.9 L1519.9 398.6 L1520.9 403.4 L1522.0 408.1 L1523.1 412.9 L1524.1 417.6 L1525.2 422.4 L1526.2 427.2 L1527.2 432.0 L1528.2 436.8 L1529.2 441.6 L1530.2 446.4 L1531.2 451.2 L1532.1 456.0 L1533.1 460.8 L1534.0 465.6 L1535.0 470.4 L1535.9 475.3 L1536.8 480.1 L1537.7 484.9 L1538.6 489.8 L1539.5 494.6 L1540.4 499.4 L1541.3 504.3 L1542.2 509.1 L1543.1 514.0 L1543.9 518.8 L1544.8 523.7 L1545.7 528.5 L1546.5 533.4 L1547.3 538.3 L1548.2 543.1 L1549.0 548.0 L1549.9 552.9 L1550.7 557.7 L1551.5 562.6 L1552.3 567.5 L1553.1 572.4 L1554.0 577.2 L1554.8 582.1 L1555.6 587.0 L1556.4 591.9 L1557.2 596.7 L1558.0 601.6 L1558.8 606.5 L1559.6 611.4 L1560.4 616.3 L1561.2 621.2 L1562.0 626.0 L1562.8 630.9 L1563.6 635.8 L1564.4 640.7 L1565.2 645.6 L1566.0 650.4 L1566.8 655.3 L1567.6 660.2 L1568.4 665.1 L1569.2 669.9 L1570.0 674.8 L1570.8 679.7 L1571.6 684.5 L1572.4 689.4 L1573.3 694.3 L1574.1 699.1 L1574.9 704.0 L1575.7 708.9 L1576.6 713.7 L1577.4 718.6 L1578.2 723.4 L1579.1 728.3 L1579.9 733.1 L1580.8 738.0 L1581.6 742.8 L1582.5 747.7 L1583.4 752.5 L1584.2 757.3 L1585.1 762.2 L1586.0 767.0 L1586.9 771.8 L1587.7 776.6 L1588.6 781.5 L1589.5 786.3 L1590.4 791.1 L1591.3 795.9 L1592.2 800.7 L1593.1 805.6 L1594.0 810.4 L1594.9 815.2 L1595.8 820.0 L1596.8 824.8 L1597.7 829.6 L1598.6 834.4 L1599.5 839.2 L1600.4 844.0 L1601.4 848.8 L1602.3 853.6 L1603.2 858.4 L1604.2 863.1 L1605.1 867.9 L1606.1 872.7 L1607.0 877.5 L1607.9 882.3 L1608.9 887.0 L1609.8 891.8 L1610.8 896.6 L1611.7 901.4 L1612.7 906.1 L1613.7 910.9 L1614.6 915.7 L1615.6 920.4 L1616.5 925.2 L1617.5 930.0 L1618.5 934.7 L1619.4 939.5 L1620.4 944.2 L1621.4 949.0 L1622.4 953.7 L1623.3 958.5 L1624.3 963.2 L1625.3 968.0 L1626.3 972.7 L1627.2 977.5 L1628.2 982.2 L1629.2 986.9 L1630.2 991.7 L1631.2 996.4 L1632.2 1001.2 L1633.1 1005.9 L1634.1 1010.6 L1635.1 1015.3 L1636.1 1020.1 L1637.1 1024.8 L1638.1 1029.5 L1639.1 1034.2 L1640.0 1039.0 L1641.0 1043.7 L1642.0 1048.4 L1643.0 1053.1 L1644.0 1057.8 L1645.0 1062.6 L1646.0 1067.3 L1647.0 1072.0 L1648.0 1076.7 L1649.0 1081.4 L1650.0 1086.1 L1651.0 1090.8 L1652.0 1095.5 L1653.0 1100.2 L1654.0 1104.9 L1655.0 1109.6 L1656.0 1114.3 L1657.1 1119.0 L1658.1 1123.7 L1659.2 1128.4 L1660.2 1133.1 L1661.3 1137.8 L1662.4 1142.5 L1663.4 1147.2 L1664.5 1151.9 L1665.6 1156.6 L1666.8 1161.3 L1667.9 1165.9 L1669.1 1170.6 L1670.2 1175.3 L1671.4 1180.0 L1672.6 1184.7 L1673.8 1189.4 L1675.0 1194.0 L1676.3 1198.7 L1677.5 1203.4 L1678.8 1208.1 L1680.1 1212.7 L1681.4 1217.4 L1682.8 1222.1 L1684.1 1226.8 L1685.5 1231.4 L1686.9 1236.1 L1688.3 1240.8 L1689.8 1245.4 L1691.2 1250.1 L1692.7 1254.8 L1694.3 1259.5 L1695.8 1264.1 L1697.4 1268.8 L1699.0 1273.4 L1700.6 1278.1 L1702.3 1282.8 L1703.9 1287.4 L1705.6 1292.1 L1707.4 1296.8 L1709.2 1301.4 L1711.0 1306.1 L1712.8 1310.7 L1714.7 1315.4 L1716.6 1320.0 L1718.5 1324.6 L1720.5 1329.3 L1722.6 1333.8 L1724.7 1338.4 L1726.8 1342.9 L1729.0 1347.4 L1731.2 1351.9 L1733.6 1356.3 L1735.9 1360.6 L1738.4 1364.9 L1740.9 1369.2 L1743.5 1373.4 L1746.1 1377.5 L1748.9 1381.6 L1751.7 1385.6 L1754.6 1389.5 L1757.6 1393.3 L1760.7 1397.0 L1763.8 1400.7 L1767.1 1404.2 L1770.5 1407.7 L1773.9 1411.0 L1777.5 1414.3 L1781.2 1417.4 L1784.9 1420.5 L1788.8 1423.4 L1792.7 1426.2 L1796.8 1428.9 L1800.9 1431.5 L1805.1 1434.0 L1809.4 1436.4 L1813.7 1438.7 L1818.1 1441.0 L1822.6 1443.1 L1827.1 1445.1 L1831.7 1447.0 L1836.3 1448.8 L1841.0 1450.5 L1845.7 1452.2 L1850.5 1453.7 L1855.2 1455.2 L1860.0 1456.6 L1864.9 1457.8 L1869.7 1459.0 L1874.6 1460.2 L1879.4 1461.2 L1884.3 1462.1 L1889.2 1463.0 L1894.0 1463.8 L1898.9 1464.5 L1903.7 1465.1 L1908.6 1465.7 L1913.4 1466.1 L1918.2 1466.5 L1922.9 1466.9 L1927.7 1467.1"/>
<path stroke="#008080" d="M269.0 1242.9 L273.6 1242.3 L278.1 1241.5 L282.5 1240.6 L286.9 1239.5 L291.1 1238.2 L295.3 1236.8 L299.4 1235.2 L303.4 1233.5 L307.4 1231.7 L311.2 1229.7 L315.0 1227.6 L318.8 1225.4 L322.4 1223.1 L326.0 1220.7 L329.5 1218.1 L333.0 1215.5 L336.4 1212.8 L339.7 1209.9 L343.0 1207.0 L346.2 1204.0 L349.3 1201.0 L352.4 1197.8 L355.4 1194.6 L358.4 1191.4 L361.3 1188.1 L364.2 1184.7 L367.0 1181.3 L369.8 1177.8 L372.6 1174.3 L375.2 1170.8 L377.9 1167.3 L380.5 1163.7 L383.0 1160.1 L385.5 1156.5 L388.0 1152.8 L390.5 1149.1 L392.9 1145.4 L395.2 1141.7 L397.6 1137.9 L399.9 1134.2 L402.1 1130.4 L404.4 1126.5 L406.6 1122.7 L408.8 1118.9 L411.0 1115.0 L413.1 1111.1 L415.2 1107.2 L417.3 1103.3 L419.4 1099.4 L421.5 1095.4 L423.6 1091.5 L425.6 1087.5 L427.6 1083.5 L429.6 1079.6 L431.6 1075.6 L433.6 1071.6 L435.6 1067.6 L437.6 1063.6 L439.6 1059.6 L441.6 1055.6 L443.5 1051.6 L445.5 1047.6 L447.5 1043.6 L449.4 1039.5 L451.4 1035.5 L453.4 1031.5 L455.4 1027.5 L457.3 1023.5 L459.3 1019.5 L461.3 1015.5 L463.3 1011.5 L465.2 1007.5 L467.2 1003.5 L469.2 999.4 L471.1 995.4 L473.1 991.4 L475.1 987.4 L477.1 983.4 L479.0 979.4 L481.0 975.4 L483.0 971.4 L484.9 967.3 L486.9 963.3 L488.9 959.3 L490.8 955.3 L492.8 951.3 L494.8 947.3 L496.7 943.3 L498.7 939.3 L500.7 935.3 L502.6 931.2 L504.6 927.2 L506.6 923.2 L508.5 919.2 L510.5 915.2 L512.5 911.2 L514.4 907.2 L516.4 903.2 L518.4 899.2 L520.3 895.2 L522.3 891.1 L524.3 887.1 L526.2 883.1 L528.2 879.1 L530.2 875.1 L532.1 871.1 L534.1 867.1 L536.0 863.1 L538.0 859.1 L540.0 855.1 L541.9 851.1 L543.9 847.1 L545.8 843.1 L547.8 839.1 L549.8 835.1 L551.7 831.1 L553.7 827.1 L555.6 823.1 L557.6 819.1 L559.6 815.1 L561.5 811.1 L563.5 807.1 L565.4 803.1 L567.4 799.1 L569.3 795.2 L571.3 791.2 L573.3 787.2 L575.2 783.2 L577.2 779.2 L579.1 775.2 L581.1 771.2 L583.0 767.3 L585.0 763.3 L586.9 759.3 L588.9 755.3 L590.8 751.3 L592.8 747.4 L594.7 743.4 L596.7 739.4 L598.6 735.5 L600.6 731.5 L602.5 727.5 L604.5 723.5 L606.4 719.6 L608.4 715.6 L610.3 711.7 L612.3 707.7 L614.2 703.7 L616.2 699.8 L618.2 695.8 L620.1 691.9 L622.1 687.9 L624.0 684.0 L626.0 680.0 L627.9 676.1 L629.9 672.1 L631.9 668.2 L633.8 664.2 L635.8 660.3 L637.8 656.4 L639.7 652.4 L641.7 648.5 L643.7 644.6 L645.7 640.6 L647.7 636.7 L649.7 632.8 L651.7 628.9 L653.7 625.0 L655.7 621.0 L657.7 617.1 L659.7 613.2 L661.7 609.3 L663.7 605.4 L665.7 601.5 L667.8 597.6 L669.8 593.7 L671.8 589.8 L673.9 585.9 L675.9 582.0 L678.0 578.1 L680.1 574.2 L682.1 570.4 L684.2 566.5 L686.3 562.6 L688.4 558.7 L690.5 554.8 L692.6 551.0 L694.7 547.1 L696.8 543.3 L698.9 539.4 L701.1 535.5 L703.2 531.7 L705.3 527.8 L707.5 524.0 L709.7 520.1 L711.8 516.3 L714.0 512.5 L716.2 508.6 L718.4 504.8 L720.6 501.0 L722.8 497.2 L725.1 493.3 L727.3 489.5 L729.6 485.7 L731.8 481.9 L734.1 478.1 L736.4 474.3 L738.6 470.5 L740.9 466.7 L743.2 462.9 L745.6 459.1 L747.9 455.3 L750.2 451.5 L752.6 447.8 L755.0 444.0 L757.3 440.2 L759.7 436.5 L762.1 432.7 L764.5 429.0 L767.0 425.2 L769.4 421.5 L771.9 417.7 L774.3 414.0 L776.8 410.2 L779.3 406.5 L781.8 402.8 L784.3 399.1 L786.8 395.4 L789.4 391.7 L791.9 388.0 L794.5 384.3 L797.1 380.6 L799.7 376.9 L802.3 373.3 L804.9 369.6 L807.6 366.0 L810.3 362.4 L812.9 358.8 L815.6 355.2 L818.3 351.6 L821.1 348.0 L823.8 344.5 L826.6 340.9 L829.3 337.4 L832.1 333.9 L834.9 330.4 L837.7 327.0 L840.6 323.5 L843.4 320.1 L846.3 316.7 L849.2 313.3 L852.1 309.9 L855.0 306.6 L858.0 303.3 L860.9 300.0 L863.9 296.7 L866.9 293.4 L869.9 290.2 L873.0 287.0 L876.0 283.8 L879.1 280.7 L882.2 277.5 L885.3 274.4 L888.4 271.4 L891.6 268.3 L894.8 265.3 L898.0 262.3 L901.2 259.4 L904.4 256.5 L907.7 253.6 L910.9 250.7 L914.2 247.9 L917.5 245.1 L920.8 242.3 L924.2 239.5 L927.6 236.8 L930.9 234.1 L934.3 231.5 L937.8 228.8 L941.2 226.2 L944.7 223.7 L948.1 221.1 L951.6 218.6 L955.1 216.1 L958.7 213.7 L962.2 211.2 L965.8 208.8 L969.4 206.5 L973.0 204.1 L976.6 201.8 L980.2 199.5 L983.9 197.3 L987.6 195.1 L991.3 192.9 L995.0 190.7 L998.7 188.6 L1002.4 186.5 L1006.2 184.4 L1010.0 182.4 L1013.8 180.4 L1017.6 178.4 L1021.4 176.4 L1025.3 174.5 L1029.1 172.6 L1033.0 170.8 L1036.9 168.9 L1040.8 167.1 L1044.7 165.4 L1048.7 163.6 L1052.6 161.9 L1056.6 160.2 L1060.6 158.6 L1064.6 157.0 L1068.6 155.4 L1072.6 153.8 L1076.7 152.3 L1080.8 150.8 L1084.9 149.3 L1089.0 147.9 L1093.1 146.5 L1097.2 145.1 L1101.3 143.8 L1105.5 142.4 L1109.7 141.2 L1113.9 139.9 L1118.1 138.7 L1122.3 137.5 L1126.5 136.3 L1130.8 135.2 L1135.0 134.1 L1139.3 133.0 L1143.6 132.0 L1147.9 131.0 L1152.2 130.0 L1156.6 129.1 L1160.9 128.1 L1165.3 127.3 L1169.6 126.4 L1174.0 125.6 L1178.4 124.8 L1182.8 124.0 L1187.3 123.3 L1191.7 122.6 L1196.2 121.9 L1200.6 121.3 L1205.1 120.7 L1209.6 120.1 L1214.1 119.5 L1218.6 119.0 L1223.1 118.5 L1227.6 117.9 L1232.1 117.5 L1236.6 117.0 L1241.1 116.5 L1245.6 116.0 L1250.1 115.6 L1254.6 115.1 L1259.1 114.7 L1263.5 114.3 L1268.0 113.8 L1272.5 113.4 L1276.9 112.9 L1281.4 112.5 L1285.8 112.0 L1290.2 111.6 L1294.6 111.2 L1299.0 110.7 L1303.4 110.3 L1307.8 109.9 L1312.2 109.5 L1316.6 109.1 L1321.0 108.7 L1325.3 108.3 L1329.7 108.0 L1334.1 107.7 L1338.4 107.3 L1342.8 107.0 L1347.2 106.8 L1351.6 106.5 L1355.9 106.3 L1360.3 106.1 L1364.7 105.9 L1369.1 105.7 L1373.5 105.6 L1377.9 105.4 L1382.3 105.3 L1386.7 105.2 L1391.1 105.1 L1395.5 105.0 L1399.9 104.9 L1404.4 104.8 L1408.8 104.6 L1413.3 104.5 L1417.8 104.4 L1422.2 104.3 L1426.7 104.2 L1431.3 104.0 L1435.8 103.9 L1440.3 103.7 L1444.8 103.6 L1449.4 103.4 L1453.9 103.3 L1458.5 103.2 L1463.0 103.1 L1467.6 103.1 L1472.1 103.1 L1476.6 103.1 L1481.2 103.1 L1485.7 103.2 L1490.2 103.4 L1494.6 103.6 L1499.1 103.8 L1503.6 104.2 L1508.0 104.6 L1512.4 105.0 L1516.8 105.6 L1521.1 106.2 L1525.4 106.9 L1529.7 107.7 L1534.0 108.6 L1538.2 109.6 L1542.4 110.7 L1546.5 111.9 L1550.6 113.2 L1554.7 114.6 L1558.7 116.2 L1562.7 117.8 L1566.6 119.6 L1570.5 121.6 L1574.3 123.6 L1578.0 125.7 L1581.8 128.0 L1585.4 130.4 L1589.0 132.8 L1592.6 135.4 L1596.0 138.1 L1599.5 140.8 L1602.8 143.7 L1606.1 146.6 L1609.3 149.6 L1612.5 152.7 L1615.6 155.8 L1618.6 159.1 L1621.5 162.3 L1624.4 165.7 L1627.2 169.1 L1630.0 172.6 L1632.7 176.1 L1635.3 179.7 L1637.9 183.3 L1640.4 186.9 L1642.9 190.6 L1645.3 194.3 L1647.6 198.1 L1649.9 201.8 L1652.2 205.6 L1654.4 209.5 L1656.6 213.3 L1658.8 217.1 L1660.9 221.0 L1662.9 224.9 L1665.0 228.8 L1667.0 232.7 L1668.9 236.6 L1670.8 240.6 L1672.7 244.5 L1674.5 248.5 L1676.3 252.5 L1678.1 256.5 L1679.9 260.5 L1681.6 264.5 L1683.2 268.6 L1684.9 272.6 L1686.5 276.7 L1688.1 280.8 L1689.6 284.9 L1691.2 289.0 L1692.7 293.1 L1694.2 297.2 L1695.6 301.4 L1697.0 305.5 L1698.4 309.7 L1699.8 313.9 L1701.2 318.1 L1702.5 322.3 L1703.8 326.5 L1705.1 330.7 L1706.4 335.0 L1707.6 339.2 L1708.9 343.5 L1710.1 347.7 L1711.3 352.0 L1712.5 356.3 L1713.7 360.6 L1714.8 364.9 L1716.0 369.2 L1717.1 373.5 L1718.2 377.8 L1719.3 382.2 L1720.4 386.5 L1721.5 390.8 L1722.6 395.2 L1723.7 399.6 L1724.7 403.9 L1725.8 408.3 L1726.8 412.7 L1727.9 417.1 L1728.9 421.5 L1730.0 425.9 L1731.0 430.3 L1732.0 434.7 L1733.1 439.2 L1734.1 443.6 L1735.1 448.0 L1736.1 452.4 L1737.2 456.9 L1738.2 461.3 L1739.2 465.8 L1740.3 470.2 L1741.3 474.7 L1742.4 479.2 L1743.4 483.6 L1744.5 488.1 L1745.6 492.6 L1746.6 497.0 L1747.7 501.5 L1748.8 506.0 L1749.9 510.5 L1751.0 515.0 L1752.1 519.5 L1753.2 523.9 L1754.4 528.4 L1755.5 532.9 L1756.6 537.4 L1757.7 541.9 L1758.9 546.4 L1760.0 550.9 L1761.2 555.4 L1762.3 559.9 L1763.5 564.4 L1764.6 568.9 L1765.7 573.4 L1766.9 577.9 L1768.0 582.3 L1769.2 586.8 L1770.3 591.3 L1771.5 595.8 L1772.6 600.3 L1773.8 604.8 L1774.9 609.3 L1776.1 613.7 L1777.2 618.2 L1778.3 622.7 L1779.5 627.2 L1780.6 631.6 L1781.7 636.1 L1782.8 640.5 L1784.0 645.0 L1785.1 649.4 L1786.2 653.9 L1787.3 658.3 L1788.3 662.8 L1789.4 667.2 L1790.5 671.6 L1791.6 676.1 L1792.6 680.5 L1793.7 684.9 L1794.7 689.3 L1795.8 693.7 L1796.8 698.1 L1797.8 702.5 L1798.8 706.9 L1799.8 711.2 L1800.8 715.6 L1801.8 720.0 L1802.7 724.3 L1803.7 728.7 L1804.6 733.0 L1805.5 737.3 L1806.4 741.6 L1807.4 746.0 L1808.2 750.3 L1809.1 754.6 L1810.0 758.9 L1810.9 763.2 L1811.7 767.5 L1812.6 771.7 L1813.4 776.0 L1814.3 780.3 L1815.1 784.5 L1815.9 788.8 L1816.8 793.1 L1817.6 797.3 L1818.4 801.5 L1819.2 805.8 L1820.0 810.0 L1820.8 814.3 L1821.5 818.5 L1822.3 822.7 L1823.1 826.9 L1823.9 831.1 L1824.6 835.3 L1825.4 839.6 L1826.2 843.8 L1826.9 848.0 L1827.7 852.2 L1828.4 856.3 L1829.2 860.5 L1829.9 864.7 L1830.7 868.9 L1831.4 873.1 L1832.2 877.3 L1832.9 881.5 L1833.7 885.6 L1834.4 889.8 L1835.2 894.0 L1835.9 898.1 L1836.7 902.3 L1837.4 906.5 L1838.2 910.7 L1838.9 914.8 L1839.7 919.0 L1840.4 923.1 L1841.2 927.3 L1841.9 931.5 L1842.7 935.6 L1843.5 939.8 L1844.3 944.0 L1845.0 948.1 L1845.8 952.3 L1846.6 956.4 L1847.4 960.6 L1848.2 964.8 L1849.0 968.9 L1849.8 973.1 L1850.6 977.3 L1851.5 981.4 L1852.3 985.6 L1853.1 989.8 L1854.0 993.9 L1854.8 998.1 L1855.7 1002.3 L1856.6 1006.5 L1857.4 1010.6 L1858.3 1014.8 L1859.2 1019.0 L1860.1 1023.2 L1861.0 1027.4 L1862.0 1031.6 L1862.9 1035.8 L1863.9 1040.0 L1864.8 1044.2 L1865.8 1048.4 L1866.8 1052.6 L1867.8 1056.8 L1868.8 1061.0 L1869.8 1065.2 L1870.8 1069.4 L1871.8 1073.6 L1872.9 1077.9 L1874.0 1082.1 L1875.1 1086.3 L1876.2 1090.6 L1877.3 1094.8 L1878.4 1099.1 L1879.5 1103.3 L1880.7 1107.6 L1881.9 1111.9 L1883.1 1116.1 L1884.3 1120.4 L1885.5 1124.7 L1886.7 1129.0 L1888.0 1133.3 L1889.3 1137.6 L1890.6 1141.9 L1891.9 1146.2 L1893.2 1150.5 L1894.6 1154.9 L1895.9 1159.2 L1897.3 1163.5 L1898.7 1167.9 L1900.1 1172.2 L1901.6 1176.6 L1903.1 1181.0 L1904.5 1185.3 L1906.1 1189.7 L1907.6 1194.1 L1909.1 1198.5 L1910.7 1202.9 L1912.3 1207.4 L1913.9 1211.8 L1915.6 1216.2 L1917.2 1220.7 L1918.9 1225.1 L1920.6 1229.6 L1922.4 1234.0 L1924.1 1238.5 L1925.9 1243.0 L1927.7 1247.5"/>
<path stroke="#ff00ff" d="M268.2 1119.8 L271.2 1122.5 L274.3 1124.8 L277.4 1126.8 L280.5 1128.5 L283.6 1130.0 L286.7 1131.1 L289.8 1132.0 L292.9 1132.7 L295.9 1133.1 L298.9 1133.3 L301.9 1133.3 L304.8 1133.1 L307.6 1132.7 L310.4 1132.1 L313.1 1131.3 L315.7 1130.4 L318.4 1129.3 L320.9 1128.0 L323.5 1126.6 L325.9 1125.1 L328.4 1123.5 L330.8 1121.8 L333.2 1120.0 L335.5 1118.1 L337.9 1116.1 L340.1 1114.1 L342.4 1112.0 L344.7 1109.8 L346.9 1107.7 L349.1 1105.5 L351.3 1103.3 L353.5 1101.1 L355.7 1098.9 L357.8 1096.7 L360.0 1094.4 L362.1 1092.2 L364.2 1089.9 L366.3 1087.7 L368.4 1085.4 L370.5 1083.1 L372.6 1080.8 L374.6 1078.5 L376.7 1076.2 L378.7 1073.9 L380.7 1071.5 L382.7 1069.2 L384.7 1066.8 L386.7 1064.5 L388.7 1062.1 L390.6 1059.7 L392.6 1057.3 L394.5 1054.9 L396.5 1052.5 L398.4 1050.1 L400.3 1047.6 L402.2 1045.2 L404.1 1042.8 L406.0 1040.3 L407.9 1037.9 L409.7 1035.4 L411.6 1032.9 L413.4 1030.5 L415.3 1028.0 L417.1 1025.5 L418.9 1023.0 L420.7 1020.5 L422.5 1018.0 L424.3 1015.5 L426.1 1012.9 L427.9 1010.4 L429.7 1007.9 L431.4 1005.3 L433.2 1002.8 L435.0 1000.2 L436.7 997.7 L438.4 995.1 L440.2 992.5 L441.9 990.0 L443.6 987.4 L445.3 984.8 L447.1 982.2 L448.8 979.7 L450.5 977.1 L452.2 974.5 L453.8 971.9 L455.5 969.3 L457.2 966.7 L458.9 964.1 L460.6 961.4 L462.2 958.8 L463.9 956.2 L465.5 953.6 L467.2 951.0 L468.8 948.4 L470.5 945.7 L472.1 943.1 L473.8 940.5 L475.4 937.8 L477.1 935.2 L478.7 932.6 L480.3 929.9 L482.0 927.3 L483.6 924.7 L485.2 922.0 L486.8 919.4 L488.5 916.8 L490.1 914.1 L491.7 911.5 L493.3 908.8 L494.9 906.2 L496.5 903.6 L498.2 900.9 L499.8 898.3 L501.4 895.6 L503.0 893.0 L504.6 890.4 L506.3 887.7 L507.9 885.1 L509.5 882.5 L511.1 879.8 L512.7 877.2 L514.3 874.6 L516.0 872.0 L517.6 869.3 L519.2 866.7 L520.8 864.1 L522.5 861.5 L524.1 858.9 L525.7 856.3 L527.4 853.7 L529.0 851.1 L530.7 848.5 L532.3 845.9 L534.0 843.3 L535.6 840.7 L537.3 838.1 L538.9 835.5 L540.6 833.0 L542.3 830.4 L543.9 827.8 L545.6 825.3 L547.3 822.7 L549.0 820.2 L550.7 817.6 L552.3 815.1 L554.0 812.5 L555.7 810.0 L557.4 807.5 L559.2 804.9 L560.9 802.4 L562.6 799.9 L564.3 797.4 L566.0 794.9 L567.7 792.4 L569.5 789.9 L571.2 787.4 L573.0 784.9 L574.7 782.4 L576.4 779.9 L578.2 777.4 L579.9 774.9 L581.7 772.4 L583.5 770.0 L585.2 767.5 L587.0 765.0 L588.8 762.5 L590.6 760.1 L592.3 757.6 L594.1 755.1 L595.9 752.7 L597.7 750.2 L599.5 747.8 L601.3 745.3 L603.1 742.9 L604.9 740.4 L606.7 738.0 L608.5 735.6 L610.4 733.1 L612.2 730.7 L614.0 728.3 L615.8 725.8 L617.7 723.4 L619.5 721.0 L621.4 718.5 L623.2 716.1 L625.1 713.7 L626.9 711.3 L628.8 708.9 L630.6 706.4 L632.5 704.0 L634.4 701.6 L636.2 699.2 L638.1 696.8 L640.0 694.4 L641.9 692.0 L643.8 689.6 L645.6 687.2 L647.5 684.8 L649.4 682.4 L651.3 680.0 L653.2 677.6 L655.2 675.2 L657.1 672.8 L659.0 670.4 L660.9 668.0 L662.8 665.6 L664.8 663.2 L666.7 660.8 L668.6 658.4 L670.6 656.0 L672.5 653.6 L674.4 651.2 L676.4 648.8 L678.3 646.4 L680.3 644.1 L682.3 641.7 L684.2 639.3 L686.2 636.9 L688.2 634.5 L690.1 632.1 L692.1 629.7 L694.1 627.3 L696.1 624.9 L698.1 622.6 L700.0 620.2 L702.0 617.8 L704.0 615.4 L706.0 613.0 L708.0 610.7 L710.0 608.3 L712.1 605.9 L714.1 603.5 L716.1 601.1 L718.1 598.8 L720.1 596.4 L722.2 594.0 L724.2 591.7 L726.2 589.3 L728.3 587.0 L730.3 584.6 L732.4 582.2 L734.4 579.9 L736.5 577.5 L738.5 575.2 L740.6 572.8 L742.7 570.5 L744.7 568.2 L746.8 565.8 L748.9 563.5 L751.0 561.1 L753.0 558.8 L755.1 556.5 L757.2 554.2 L759.3 551.9 L761.4 549.5 L763.5 547.2 L765.6 544.9 L767.7 542.6 L769.8 540.3 L772.0 538.0 L774.1 535.7 L776.2 533.4 L778.3 531.2 L780.5 528.9 L782.6 526.6 L784.7 524.3 L786.9 522.1 L789.0 519.8 L791.2 517.5 L793.3 515.3 L795.5 513.0 L797.6 510.8 L799.8 508.6 L801.9 506.3 L804.1 504.1 L806.3 501.9 L808.5 499.7 L810.6 497.4 L812.8 495.2 L815.0 493.0 L817.2 490.8 L819.4 488.6 L821.6 486.5 L823.8 484.3 L826.0 482.1 L828.2 479.9 L830.4 477.8 L832.6 475.6 L834.9 473.5 L837.1 471.3 L839.3 469.2 L841.5 467.1 L843.8 465.0 L846.0 462.8 L848.2 460.7 L850.5 458.6 L852.7 456.5 L855.0 454.5 L857.2 452.4 L859.5 450.3 L861.8 448.2 L864.0 446.2 L866.3 444.1 L868.6 442.1 L870.8 440.0 L873.1 438.0 L875.4 436.0 L877.7 434.0 L880.0 432.0 L882.3 430.0 L884.6 428.0 L886.9 426.0 L889.2 424.0 L891.5 422.0 L893.8 420.0 L896.1 418.1 L898.4 416.1 L900.8 414.2 L903.1 412.2 L905.4 410.3 L907.7 408.4 L910.1 406.4 L912.4 404.5 L914.8 402.6 L917.1 400.7 L919.5 398.8 L921.8 396.9 L924.2 395.0 L926.5 393.1 L928.9 391.2 L931.3 389.4 L933.7 387.5 L936.0 385.6 L938.4 383.8 L940.8 381.9 L943.2 380.1 L945.6 378.2 L948.0 376.4 L950.4 374.6 L952.8 372.7 L955.2 370.9 L957.6 369.1 L960.0 367.3 L962.4 365.5 L964.8 363.7 L967.3 361.9 L969.7 360.1 L972.1 358.3 L974.5 356.5 L977.0 354.7 L979.4 352.9 L981.9 351.2 L984.3 349.4 L986.8 347.6 L989.2 345.9 L991.7 344.1 L994.1 342.4 L996.6 340.6 L999.1 338.9 L1001.6 337.1 L1004.0 335.4 L1006.5 333.7 L1009.0 331.9 L1011.5 330.2 L1014.0 328.5 L1016.5 326.8 L1019.0 325.1 L1021.5 323.3 L1024.0 321.6 L1026.5 319.9 L1029.0 318.2 L1031.5 316.5 L1034.0 314.8 L1036.6 313.1 L1039.1 311.4 L1041.6 309.8 L1044.2 308.1 L1046.7 306.4 L1049.2 304.7 L1051.8 303.0 L1054.3 301.4 L1056.9 299.7 L1059.4 298.0 L1062.0 296.3 L1064.6 294.7 L1067.1 293.0 L1069.7 291.4 L1072.3 289.7 L1074.9 288.0 L1077.4 286.4 L1080.0 284.7 L1082.6 283.1 L1085.2 281.4 L1087.8 279.8 L1090.4 278.1 L1093.0 276.5 L1095.6 274.9 L1098.2 273.2 L1100.8 271.6 L1103.5 269.9 L1106.1 268.3 L1108.7 266.7 L1111.3 265.0 L1114.0 263.4 L1116.6 261.8 L1119.3 260.1 L1121.9 258.5 L1124.5 256.9 L1127.2 255.3 L1129.8 253.7 L1132.5 252.0 L1135.2 250.4 L1137.8 248.8 L1140.5 247.2 L1143.2 245.6 L1145.9 244.0 L1148.5 242.5 L1151.2 240.9 L1153.9 239.3 L1156.6 237.7 L1159.3 236.2 L1162.0 234.6 L1164.7 233.0 L1167.4 231.5 L1170.1 230.0 L1172.8 228.4 L1175.5 226.9 L1178.2 225.4 L1181.0 223.8 L1183.7 222.3 L1186.4 220.8 L1189.2 219.3 L1191.9 217.9 L1194.6 216.4 L1197.4 214.9 L1200.1 213.4 L1202.9 212.0 L1205.6 210.5 L1208.4 209.1 L1211.2 207.7 L1213.9 206.3 L1216.7 204.8 L1219.5 203.4 L1222.3 202.1 L1225.0 200.7 L1227.8 199.3 L1230.6 197.9 L1233.4 196.6 L1236.2 195.3 L1239.0 193.9 L1241.8 192.6 L1244.6 191.3 L1247.4 190.0 L1250.2 188.7 L1253.1 187.5 L1255.9 186.2 L1258.7 184.9 L1261.5 183.7 L1264.4 182.5 L1267.2 181.3 L1270.0 180.1 L1272.9 178.9 L1275.7 177.7 L1278.6 176.6 L1281.4 175.4 L1284.3 174.3 L1287.2 173.2 L1290.0 172.1 L1292.9 171.0 L1295.8 169.9 L1298.6 168.9 L1301.5 167.9 L1304.4 166.8 L1307.3 165.8 L1310.2 164.8 L1313.1 163.9 L1316.0 162.9 L1318.9 161.9 L1321.8 161.0 L1324.7 160.1 L1327.6 159.2 L1330.5 158.3 L1333.4 157.5 L1336.4 156.6 L1339.3 155.8 L1342.2 155.0 L1345.2 154.2 L1348.1 153.4 L1351.0 152.6 L1354.0 151.9 L1356.9 151.1 L1359.9 150.4 L1362.8 149.7 L1365.8 149.0 L1368.7 148.3 L1371.7 147.6 L1374.7 146.9 L1377.6 146.3 L1380.6 145.6 L1383.6 145.0 L1386.6 144.4 L1389.5 143.7 L1392.5 143.1 L1395.5 142.5 L1398.5 141.9 L1401.5 141.3 L1404.5 140.7 L1407.5 140.1 L1410.5 139.5 L1413.5 139.0 L1416.5 138.4 L1419.5 137.8 L1422.5 137.2 L1425.5 136.7 L1428.5 136.1 L1431.5 135.6 L1434.5 135.0 L1437.6 134.5 L1440.6 133.9 L1443.6 133.3 L1446.6 132.8 L1449.7 132.2 L1452.7 131.7 L1455.7 131.1 L1458.7 130.5 L1461.8 130.0 L1464.8 129.4 L1467.8 128.8 L1470.9 128.3 L1473.9 127.7 L1477.0 127.1 L1480.0 126.5 L1483.0 125.9 L1486.1 125.4 L1489.1 124.8 L1492.2 124.2 L1495.2 123.6 L1498.3 123.0 L1501.3 122.4 L1504.4 121.8 L1507.4 121.2 L1510.5 120.6 L1513.5 120.0 L1516.6 119.4 L1519.6 118.8 L1522.7 118.2 L1525.7 117.6 L1528.8 117.0 L1531.8 116.4 L1534.9 115.8 L1538.0 115.2 L1541.0 114.6 L1544.1 114.0 L1547.1 113.4 L1550.2 112.8 L1553.2 112.3 L1556.3 111.7 L1559.4 111.1 L1562.4 110.5 L1565.5 110.0 L1568.5 109.4 L1571.6 108.8 L1574.7 108.3 L1577.7 107.7 L1580.8 107.2 L1583.8 106.6 L1586.9 106.1 L1589.9 105.6 L1593.0 105.0 L1596.1 104.5 L1599.1 104.0 L1602.2 103.5 L1605.2 103.0 L1608.3 102.5 L1611.3 102.0 L1614.4 101.5 L1617.4 101.0 L1620.5 100.6 L1623.5 100.1 L1626.6 99.7 L1629.6 99.2 L1632.7 98.8 L1635.7 98.4 L1638.8 98.0 L1641.8 97.6 L1644.9 97.2 L1647.9 96.8 L1651.0 96.4 L1654.0 96.0 L1657.0 95.7 L1660.1 95.3 L1663.1 95.0 L1666.1 94.7 L1669.2 94.4 L1672.2 94.1 L1675.2 93.8 L1678.3 93.5 L1681.3 93.3 L1684.3 93.1 L1687.3 92.8 L1690.4 92.6 L1693.4 92.5 L1696.4 92.3 L1699.4 92.2 L1702.4 92.1 L1705.4 92.0 L1708.5 91.9 L1711.5 91.8 L1714.5 91.8 L1717.5 91.8 L1720.5 91.9 L1723.5 91.9 L1726.5 92.0 L1729.5 92.1 L1732.5 92.2 L1735.5 92.4 L1738.5 92.6 L1741.5 92.9 L1744.5 93.1 L1747.5 93.4 L1750.5 93.8 L1753.5 94.1 L1756.5 94.6 L1759.5 95.0 L1762.5 95.5 L1765.4 96.0 L1768.4 96.6 L1771.4 97.2 L1774.4 97.8 L1777.4 98.5 L1780.4 99.2 L1783.3 100.0 L1786.3 100.8 L1789.3 101.7 L1792.3 102.6 L1795.2 103.5 L1798.2 104.5 L1801.2 105.6 L1804.1 106.6 L1807.1 107.8 L1810.0 109.0 L1812.9 110.2 L1815.8 111.5 L1818.6 112.9 L1821.5 114.3 L1824.3 115.8 L1827.0 117.3 L1829.8 118.8 L1832.5 120.5 L1835.1 122.2 L1837.7 123.9 L1840.3 125.7 L1842.8 127.6 L1845.3 129.5 L1847.7 131.5 L1850.0 133.5 L1852.3 135.6 L1854.6 137.8 L1856.8 139.9 L1859.0 142.2 L1861.2 144.5 L1863.3 146.8 L1865.3 149.1 L1867.4 151.5 L1869.4 154.0 L1871.3 156.4 L1873.3 158.9 L1875.2 161.5 L1877.1 164.0 L1878.9 166.6 L1880.7 169.2 L1882.5 171.8 L1884.3 174.4 L1886.1 177.0 L1887.8 179.7 L1889.5 182.3 L1891.2 185.0 L1892.9 187.7 L1894.6 190.4 L1896.2 193.0 L1897.9 195.7 L1899.5 198.4 L1901.2 201.0 L1902.8 203.7 L1904.4 206.3 L1906.1 209.0 L1907.7 211.6 L1909.3 214.2 L1911.0 216.7 L1912.6 219.3 L1914.2 221.8 L1915.9 224.3 L1917.5 226.8 L1919.2 229.2 L1920.9 231.6 L1922.5 234.0 L1924.2 236.3 L1926.0 238.6 L1927.7 240.9"/>
<path stroke="#808000" d="M269.5 839.6 L270.1 841.6 L270.9 843.7 L271.6 845.8 L272.5 848.1 L273.3 850.4 L274.3 852.8 L275.2 855.3 L276.3 857.7 L277.4 860.3 L278.5 862.9 L279.7 865.4 L280.9 868.1 L282.2 870.7 L283.6 873.3 L285.0 875.9 L286.5 878.5 L288.0 881.1 L289.6 883.7 L291.2 886.2 L292.9 888.6 L294.6 891.0 L296.4 893.3 L298.3 895.6 L300.2 897.7 L302.2 899.7 L304.2 901.5 L306.3 903.2 L308.4 904.8 L310.6 906.2 L312.9 907.4 L315.2 908.4 L317.6 909.2 L320.0 909.9 L322.5 910.4 L325.0 910.8 L327.5 911.0 L330.1 911.1 L332.7 911.0 L335.3 910.8 L338.0 910.5 L340.6 910.1 L343.3 909.5 L346.0 908.9 L348.7 908.2 L351.3 907.4 L354.0 906.5 L356.7 905.5 L359.3 904.4 L362.0 903.3 L364.6 902.2 L367.2 901.0 L369.7 899.7 L372.2 898.4 L374.7 897.1 L377.2 895.7 L379.6 894.4 L382.0 892.9 L384.4 891.5 L386.8 890.0 L389.1 888.5 L391.4 886.9 L393.7 885.3 L396.0 883.7 L398.2 882.1 L400.4 880.4 L402.6 878.7 L404.8 877.0 L407.0 875.3 L409.1 873.6 L411.3 871.8 L413.4 870.0 L415.5 868.2 L417.6 866.4 L419.6 864.5 L421.7 862.7 L423.8 860.8 L425.8 858.9 L427.8 857.0 L429.9 855.1 L431.9 853.2 L433.9 851.3 L435.9 849.3 L437.9 847.4 L439.9 845.5 L441.8 843.5 L443.8 841.6 L445.8 839.6 L447.8 837.6 L449.8 835.7 L451.7 833.7 L453.7 831.8 L455.7 829.8 L457.7 827.9 L459.7 825.9 L461.7 824.0 L463.7 822.1 L465.7 820.1 L467.7 818.2 L469.7 816.3 L471.7 814.4 L473.8 812.5 L475.8 810.6 L477.8 808.7 L479.9 806.8 L481.9 805.0 L484.0 803.1 L486.0 801.2 L488.1 799.4 L490.2 797.5 L492.2 795.7 L494.3 793.8 L496.4 792.0 L498.5 790.2 L500.5 788.4 L502.6 786.5 L504.7 784.7 L506.8 782.9 L508.9 781.1 L511.0 779.3 L513.2 777.5 L515.3 775.7 L517.4 774.0 L519.5 772.2 L521.6 770.4 L523.8 768.6 L525.9 766.9 L528.0 765.1 L530.2 763.4 L532.3 761.6 L534.5 759.9 L536.6 758.1 L538.8 756.4 L541.0 754.7 L543.1 752.9 L545.3 751.2 L547.5 749.5 L549.6 747.8 L551.8 746.1 L554.0 744.4 L556.2 742.7 L558.4 741.0 L560.5 739.3 L562.7 737.6 L564.9 735.9 L567.1 734.2 L569.3 732.5 L571.5 730.9 L573.7 729.2 L575.9 727.5 L578.2 725.9 L580.4 724.2 L582.6 722.6 L584.8 720.9 L587.0 719.2 L589.2 717.6 L591.5 716.0 L593.7 714.3 L595.9 712.7 L598.2 711.0 L600.4 709.4 L602.6 707.8 L604.9 706.2 L607.1 704.5 L609.4 702.9 L611.6 701.3 L613.8 699.7 L616.1 698.1 L618.3 696.5 L620.6 694.8 L622.8 693.2 L625.1 691.6 L627.4 690.0 L629.6 688.4 L631.9 686.8 L634.1 685.3 L636.4 683.7 L638.6 682.1 L640.9 680.5 L643.2 678.9 L645.4 677.3 L647.7 675.7 L650.0 674.1 L652.2 672.6 L654.5 671.0 L656.8 669.4 L659.1 667.8 L661.3 666.3 L663.6 664.7 L665.9 663.1 L668.2 661.6 L670.4 660.0 L672.7 658.4 L675.0 656.9 L677.3 655.3 L679.6 653.8 L681.9 652.2 L684.1 650.7 L686.4 649.1 L688.7 647.6 L691.0 646.0 L693.3 644.5 L695.6 642.9 L697.9 641.4 L700.2 639.9 L702.5 638.3 L704.8 636.8 L707.1 635.2 L709.4 633.7 L711.7 632.2 L714.0 630.6 L716.3 629.1 L718.6 627.6 L720.9 626.1 L723.2 624.5 L725.5 623.0 L727.8 621.5 L730.1 620.0 L732.4 618.5 L734.7 617.0 L737.0 615.4 L739.3 613.9 L741.6 612.4 L743.9 610.9 L746.2 609.4 L748.6 607.9 L750.9 606.4 L753.2 604.9 L755.5 603.4 L757.8 601.9 L760.1 600.4 L762.5 598.9 L764.8 597.4 L767.1 595.9 L769.4 594.4 L771.7 592.9 L774.1 591.5 L776.4 590.0 L778.7 588.5 L781.0 587.0 L783.4 585.5 L785.7 584.0 L788.0 582.6 L790.4 581.1 L792.7 579.6 L795.0 578.1 L797.3 576.7 L799.7 575.2 L802.0 573.7 L804.3 572.3 L806.7 570.8 L809.0 569.3 L811.4 567.9 L813.7 566.4 L816.0 564.9 L818.4 563.5 L820.7 562.0 L823.1 560.6 L825.4 559.1 L827.7 557.6 L830.1 556.2 L832.4 554.7 L834.8 553.3 L837.1 551.8 L839.5 550.4 L841.8 549.0 L844.2 547.5 L846.5 546.1 L848.8 544.6 L851.2 543.2 L853.5 541.7 L855.9 540.3 L858.2 538.9 L860.6 537.4 L863.0 536.0 L865.3 534.6 L867.7 533.1 L870.0 531.7 L872.4 530.3 L874.7 528.8 L877.1 527.4 L879.4 526.0 L881.8 524.6 L884.2 523.1 L886.5 521.7 L888.9 520.3 L891.2 518.9 L893.6 517.5 L896.0 516.0 L898.3 514.6 L900.7 513.2 L903.0 511.8 L905.4 510.4 L907.8 509.0 L910.1 507.6 L912.5 506.2 L914.9 504.7 L917.2 503.3 L919.6 501.9 L922.0 500.5 L924.3 499.1 L926.7 497.7 L929.1 496.3 L931.4 494.9 L933.8 493.5 L936.2 492.1 L938.5 490.7 L940.9 489.3 L943.3 487.9 L945.7 486.5 L948.0 485.1 L950.4 483.8 L952.8 482.4 L955.2 481.0 L957.5 479.6 L959.9 478.2 L962.3 476.8 L964.7 475.4 L967.0 474.0 L969.4 472.6 L971.8 471.3 L974.2 469.9 L976.5 468.5 L978.9 467.1 L981.3 465.7 L983.7 464.4 L986.1 463.0 L988.4 461.6 L990.8 460.2 L993.2 458.9 L995.6 457.5 L998.0 456.1 L1000.3 454.7 L1002.7 453.4 L1005.1 452.0 L1007.5 450.6 L1009.9 449.3 L1012.2 447.9 L1014.6 446.5 L1017.0 445.2 L1019.4 443.8 L1021.8 442.4 L1024.2 441.1 L1026.5 439.7 L1028.9 438.3 L1031.3 437.0 L1033.7 435.6 L1036.1 434.2 L1038.5 432.9 L1040.9 431.5 L1043.2 430.2 L1045.6 428.8 L1048.0 427.4 L1050.4 426.1 L1052.8 424.7 L1055.2 423.4 L1057.6 422.0 L1060.0 420.6 L1062.3 419.3 L1064.7 417.9 L1067.1 416.6 L1069.5 415.2 L1071.9 413.8 L1074.3 412.5 L1076.7 411.1 L1079.1 409.7 L1081.5 408.4 L1083.9 407.0 L1086.3 405.6 L1088.6 404.3 L1091.0 402.9 L1093.4 401.5 L1095.8 400.1 L1098.2 398.8 L1100.6 397.4 L1103.0 396.0 L1105.4 394.6 L1107.8 393.2 L1110.2 391.8 L1112.6 390.5 L1115.0 389.1 L1117.4 387.7 L1119.8 386.3 L1122.2 384.9 L1124.6 383.5 L1127.0 382.1 L1129.4 380.7 L1131.8 379.2 L1134.2 377.8 L1136.6 376.4 L1139.0 375.0 L1141.4 373.6 L1143.8 372.2 L1146.2 370.7 L1148.6 369.3 L1151.0 367.9 L1153.4 366.4 L1155.8 365.0 L1158.2 363.5 L1160.6 362.1 L1163.0 360.6 L1165.4 359.2 L1167.9 357.7 L1170.3 356.2 L1172.7 354.8 L1175.1 353.3 L1177.5 351.8 L1179.9 350.3 L1182.3 348.9 L1184.7 347.4 L1187.1 345.9 L1189.6 344.4 L1192.0 342.9 L1194.4 341.5 L1196.8 340.0 L1199.2 338.5 L1201.6 337.0 L1204.0 335.5 L1206.5 334.0 L1208.9 332.5 L1211.3 331.0 L1213.7 329.6 L1216.1 328.1 L1218.6 326.6 L1221.0 325.1 L1223.4 323.6 L1225.8 322.1 L1228.3 320.7 L1230.7 319.2 L1233.1 317.7 L1235.5 316.2 L1237.9 314.8 L1240.4 313.3 L1242.8 311.8 L1245.2 310.4 L1247.7 308.9 L1250.1 307.5 L1252.5 306.0 L1255.0 304.6 L1257.4 303.2 L1259.8 301.7 L1262.2 300.3 L1264.7 298.9 L1267.1 297.4 L1269.5 296.0 L1272.0 294.6 L1274.4 293.2 L1276.9 291.8 L1279.3 290.4 L1281.7 289.0 L1284.2 287.7 L1286.6 286.3 L1289.1 284.9 L1291.5 283.6 L1293.9 282.2 L1296.4 280.9 L1298.8 279.5 L1301.3 278.2 L1303.7 276.9 L1306.2 275.6 L1308.6 274.3 L1311.1 273.0 L1313.5 271.7 L1316.0 270.5 L1318.4 269.2 L1320.9 267.9 L1323.3 266.7 L1325.8 265.5 L1328.2 264.2 L1330.7 263.0 L1333.1 261.8 L1335.6 260.6 L1338.1 259.4 L1340.5 258.2 L1343.0 257.0 L1345.4 255.9 L1347.9 254.7 L1350.4 253.5 L1352.8 252.4 L1355.3 251.2 L1357.7 250.1 L1360.2 248.9 L1362.7 247.8 L1365.1 246.7 L1367.6 245.6 L1370.1 244.5 L1372.6 243.3 L1375.0 242.2 L1377.5 241.1 L1380.0 240.0 L1382.4 239.0 L1384.9 237.9 L1387.4 236.8 L1389.9 235.7 L1392.3 234.6 L1394.8 233.6 L1397.3 232.5 L1399.8 231.4 L1402.3 230.4 L1404.8 229.3 L1407.2 228.2 L1409.7 227.2 L1412.2 226.1 L1414.7 225.1 L1417.2 224.0 L1419.7 223.0 L1422.2 221.9 L1424.7 220.9 L1427.1 219.8 L1429.6 218.8 L1432.1 217.7 L1434.6 216.7 L1437.1 215.7 L1439.6 214.6 L1442.1 213.6 L1444.6 212.5 L1447.1 211.5 L1449.6 210.4 L1452.1 209.4 L1454.6 208.3 L1457.1 207.3 L1459.6 206.2 L1462.1 205.2 L1464.7 204.1 L1467.2 203.1 L1469.7 202.0 L1472.2 200.9 L1474.7 199.9 L1477.2 198.8 L1479.7 197.7 L1482.2 196.6 L1484.8 195.6 L1487.3 194.5 L1489.8 193.4 L1492.3 192.3 L1494.8 191.2 L1497.4 190.1 L1499.9 189.0 L1502.4 187.9 L1504.9 186.8 L1507.5 185.7 L1510.0 184.5 L1512.5 183.4 L1515.1 182.3 L1517.6 181.2 L1520.1 180.1 L1522.7 178.9 L1525.2 177.8 L1527.7 176.7 L1530.3 175.5 L1532.8 174.4 L1535.3 173.3 L1537.9 172.2 L1540.4 171.1 L1543.0 170.0 L1545.5 168.9 L1548.1 167.8 L1550.6 166.7 L1553.2 165.6 L1555.7 164.5 L1558.3 163.4 L1560.8 162.4 L1563.4 161.3 L1565.9 160.3 L1568.5 159.2 L1571.1 158.2 L1573.6 157.1 L1576.2 156.1 L1578.7 155.1 L1581.3 154.1 L1583.9 153.1 L1586.4 152.1 L1589.0 151.1 L1591.6 150.1 L1594.1 149.1 L1596.7 148.2 L1599.3 147.2 L1601.9 146.2 L1604.4 145.2 L1607.0 144.3 L1609.6 143.3 L1612.2 142.3 L1614.8 141.4 L1617.3 140.4 L1619.9 139.5 L1622.5 138.5 L1625.1 137.6 L1627.7 136.6 L1630.3 135.7 L1632.9 134.7 L1635.5 133.8 L1638.1 132.8 L1640.7 131.9 L1643.3 131.0 L1645.9 130.0 L1648.5 129.1 L1651.1 128.2 L1653.7 127.2 L1656.3 126.3 L1658.9 125.4 L1661.5 124.5 L1664.1 123.6 L1666.7 122.6 L1669.3 121.7 L1671.9 120.8 L1674.5 119.9 L1677.2 119.0 L1679.8 118.1 L1682.4 117.2 L1685.0 116.3 L1687.6 115.4 L1690.3 114.6 L1692.9 113.7 L1695.5 112.8 L1698.1 111.9 L1700.8 111.1 L1703.4 110.2 L1706.0 109.3 L1708.7 108.5 L1711.3 107.6 L1714.0 106.8 L1716.6 105.9 L1719.2 105.1 L1721.9 104.3 L1724.5 103.5 L1727.2 102.6 L1729.8 101.8 L1732.5 101.0 L1735.1 100.2 L1737.8 99.4 L1740.4 98.6 L1743.1 97.8 L1745.7 97.0 L1748.4 96.3 L1751.1 95.5 L1753.7 94.7 L1756.4 94.0 L1759.0 93.2 L1761.7 92.4 L1764.4 91.7 L1767.0 91.0 L1769.7 90.2 L1772.4 89.5 L1775.1 88.8 L1777.7 88.1 L1780.4 87.4 L1783.1 86.7 L1785.8 86.0 L1788.5 85.3 L1791.2 84.7 L1793.8 84.0 L1796.5 83.4 L1799.2 82.7 L1801.9 82.1 L1804.6 81.5 L1807.3 80.9 L1810.0 80.3 L1812.7 79.7 L1815.4 79.2 L1818.1 78.6 L1820.8 78.1 L1823.5 77.5 L1826.2 77.0 L1828.9 76.5 L1831.6 76.0 L1834.4 75.5 L1837.1 75.1 L1839.8 74.6 L1842.5 74.2 L1845.2 73.8 L1848.0 73.4 L1850.7 73.0 L1853.4 72.6 L1856.1 72.3 L1858.9 71.9 L1861.6 71.6 L1864.3 71.3 L1867.1 71.0 L1869.8 70.8 L1872.5 70.5 L1875.3 70.3 L1878.0 70.1 L1880.8 69.9 L1883.5 69.7 L1886.3 69.6 L1889.0 69.5 L1891.8 69.3 L1894.5 69.3 L1897.3 69.2 L1900.0 69.2 L1902.8 69.1 L1905.5 69.1 L1908.3 69.2 L1911.1 69.2 L1913.8 69.3 L1916.6 69.4 L1919.4 69.5 L1922.2 69.6 L1924.9 69.8 L1927.7 70.0"/>
</g>
<rect x="944.5" y="636.7" width="303.2" height="625.8" fill="#fff" stroke="#000" stroke-width="2.6"/>
<text class="s" x="1082.2" y="714.5" font-size="121" text-anchor="middle" stroke="#000" stroke-width="1">φ</text>
<g stroke-width="11.3" stroke-linecap="round">
<path stroke="#000000" d="M953.2 790.0H1106.8"/>
<path stroke="#ff0000" d="M953.2 876.5H1106.8"/>
<path stroke="#0000ff" d="M953.2 962.9H1106.8"/>
<path stroke="#008080" d="M953.2 1049.3H1106.8"/>
<path stroke="#ff00ff" d="M953.2 1135.8H1106.8"/>
<path stroke="#808000" d="M953.2 1222.2H1106.8"/>
</g>
<g class="s" font-size="72">
<text transform="translate(1123 813.9) scale(1 1.015)">0°</text>
<text transform="translate(1123 902.2) scale(1 1.015)">15°</text>
<text transform="translate(1123 989.8) scale(1 1.015)">30°</text>
<text transform="translate(1123 1073.6) scale(1 1.015)">45°</text>
<text transform="translate(1123 1161.1) scale(1 1.015)">60°</text>
<text transform="translate(1123 1250.3) scale(1 1.015)">75°</text>
</g>
<text class="s" x="1224" y="1670" font-size="67" text-anchor="middle">Frequency(THz)</text>
<text class="s" font-size="70" text-anchor="middle" transform="translate(82.3 769) rotate(-90)">PCR</text>
</svg></body></html>
